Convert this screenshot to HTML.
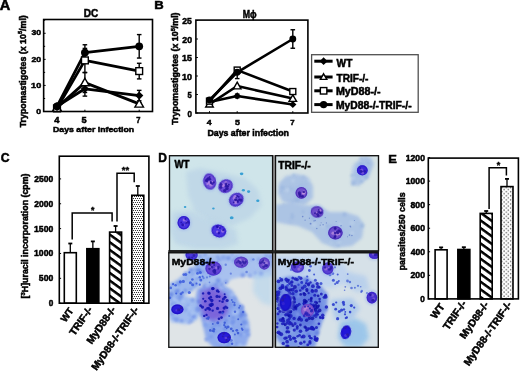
<!DOCTYPE html>
<html><head><meta charset="utf-8"><style>
html,body{margin:0;padding:0;background:#fff;}
svg{display:block;will-change:transform;}
text{font-family:"Liberation Sans",sans-serif;font-weight:bold;fill:#000;}
</style></head><body>
<svg width="520" height="371" viewBox="0 0 520 371">
<defs>
<pattern id="hatch" patternUnits="userSpaceOnUse" width="6.2" height="6.2" patternTransform="rotate(36)">
<rect width="6.2" height="6.2" fill="#fff"/><rect y="0" width="6.2" height="2.5" fill="#000"/></pattern>
<pattern id="dotsC" patternUnits="userSpaceOnUse" width="2" height="4">
<rect width="2" height="4" fill="#fff"/><circle cx="0.5" cy="0.5" r="0.62" fill="#2a2a2a"/><circle cx="1.5" cy="2.5" r="0.62" fill="#2a2a2a"/></pattern>
<pattern id="dots" patternUnits="userSpaceOnUse" width="4.3" height="4.1">
<rect width="4.3" height="4.1" fill="#fff"/><circle cx="1.0" cy="1.0" r="0.75" fill="#6a6a6a"/><circle cx="3.15" cy="3.05" r="0.75" fill="#6a6a6a"/></pattern>
<filter id="b1" x="-50%" y="-50%" width="200%" height="200%"><feGaussianBlur stdDeviation="1"/></filter>
<filter id="b15" x="-50%" y="-50%" width="200%" height="200%"><feGaussianBlur stdDeviation="1.5"/></filter>
<filter id="b2" x="-50%" y="-50%" width="200%" height="200%"><feGaussianBlur stdDeviation="2"/></filter>
<filter id="b04" x="-50%" y="-50%" width="200%" height="200%"><feGaussianBlur stdDeviation="0.4"/></filter>
<filter id="b06" x="-50%" y="-50%" width="200%" height="200%"><feGaussianBlur stdDeviation="0.6"/></filter>
<filter id="b05" x="-50%" y="-50%" width="200%" height="200%"><feGaussianBlur stdDeviation="0.5"/></filter>
</defs>
<rect x="273.0" y="155.2" width="2.2" height="192.6" fill="#a0a0a0"/>
<rect x="168.3" y="250.2" width="210.7" height="3.2" fill="#2a2a2a"/>
<clipPath id="cpWT"><rect x="169.5" y="155.7" width="103.10000000000002" height="95.10000000000002"/></clipPath>
<g clip-path="url(#cpWT)">
<rect x="169.5" y="155.7" width="103.10000000000002" height="95.10000000000002" fill="#cfe5ea"/>
<path d="M186 172 L200 168 L220 172 L245 178 L258 190 L262 205 L250 218 L232 226 L210 222 L195 212 L188 195Z" fill="#bad3e6" opacity="0.7" filter="url(#b2)"/>
<path d="M172 212 L190 210 L205 218 L222 222 L236 230 L238 244 L222 249 L195 249 L175 244 L170 230Z" fill="#b9d2e6" opacity="0.7" filter="url(#b2)"/>
<ellipse cx="241.6" cy="173.8" rx="1.8" ry="1.4" fill="#38a0d4" opacity="1" transform="rotate(0 241.6 173.8)" filter="url(#b05)"/>
<ellipse cx="243.4" cy="190.2" rx="1.6" ry="1.3" fill="#38a0d4" opacity="1" transform="rotate(0 243.4 190.2)" filter="url(#b05)"/>
<ellipse cx="248.6" cy="191.6" rx="1.6" ry="1.3" fill="#38a0d4" opacity="1" transform="rotate(0 248.6 191.6)" filter="url(#b05)"/>
<ellipse cx="257.8" cy="200.7" rx="1.6" ry="1.3" fill="#38a0d4" opacity="1" transform="rotate(0 257.8 200.7)" filter="url(#b05)"/>
<ellipse cx="231.7" cy="217.7" rx="1.9" ry="1.5" fill="#38a0d4" opacity="1" transform="rotate(0 231.7 217.7)" filter="url(#b05)"/>
<ellipse cx="213.4" cy="208.5" rx="1.3" ry="1.0" fill="#38a0d4" opacity="1" transform="rotate(0 213.4 208.5)" filter="url(#b05)"/>
<ellipse cx="185.1" cy="206.9" rx="1.3" ry="1.0" fill="#38a0d4" opacity="1" transform="rotate(0 185.1 206.9)" filter="url(#b05)"/>
<ellipse cx="237.0" cy="194.0" rx="1.1" ry="0.9" fill="#38a0d4" opacity="1" transform="rotate(0 237.0 194.0)" filter="url(#b05)"/>
<ellipse cx="209.7" cy="181.6" rx="8.0" ry="9.8" fill="#a0b8ec" opacity="0.55" transform="rotate(-12 209.7 181.6)" filter="url(#b1)"/>
<ellipse cx="209.7" cy="181.6" rx="6.2" ry="8.0" fill="#6e50d8" opacity="1" transform="rotate(-12 209.7 181.6)" filter="url(#b05)"/>
<ellipse cx="209.7" cy="181.6" rx="5.7" ry="7.5" fill="none" stroke="#4428c0" stroke-width="1.3" opacity="0.75" transform="rotate(-12 209.7 181.6)" filter="url(#b05)"/>
<circle cx="209.4" cy="183.2" r="1.5" fill="#b88ae4" opacity="0.75" filter="url(#b06)"/>
<circle cx="212.2" cy="182.5" r="1.3" fill="#b88ae4" opacity="0.75" filter="url(#b06)"/>
<circle cx="212.2" cy="182.2" r="1.0" fill="#b88ae4" opacity="0.75" filter="url(#b06)"/>
<circle cx="209.0" cy="182.2" r="1.1" fill="#b88ae4" opacity="0.75" filter="url(#b06)"/>
<circle cx="207.4" cy="184.0" r="1.1" fill="#b88ae4" opacity="0.75" filter="url(#b06)"/>
<circle cx="210.9" cy="184.9" r="1.7" fill="#b88ae4" opacity="0.75" filter="url(#b06)"/>
<circle cx="206.9" cy="180.5" r="1.6" fill="#2c16a4" opacity="0.85" filter="url(#b06)"/>
<circle cx="213.9" cy="182.3" r="1.1" fill="#2c16a4" opacity="0.85" filter="url(#b06)"/>
<circle cx="210.9" cy="182.9" r="1.1" fill="#2c16a4" opacity="0.85" filter="url(#b06)"/>
<circle cx="210.0" cy="179.2" r="1.3" fill="#2c16a4" opacity="0.85" filter="url(#b06)"/>
<circle cx="207.4" cy="179.3" r="1.3" fill="#2c16a4" opacity="0.85" filter="url(#b06)"/>
<circle cx="210.8" cy="181.9" r="1.0" fill="#2c16a4" opacity="0.85" filter="url(#b06)"/>
<circle cx="207.8" cy="178.5" r="1.1" fill="#2c16a4" opacity="0.85" filter="url(#b06)"/>
<circle cx="206.8" cy="180.2" r="1.1" fill="#2c16a4" opacity="0.85" filter="url(#b06)"/>
<circle cx="209.7" cy="176.9" r="1.0" fill="#2c16a4" opacity="0.85" filter="url(#b06)"/>
<circle cx="206.5" cy="180.4" r="1.5" fill="#2c16a4" opacity="0.85" filter="url(#b06)"/>
<circle cx="208.8" cy="178.7" r="1.6" fill="#2c16a4" opacity="0.85" filter="url(#b06)"/>
<circle cx="212.3" cy="183.6" r="1.4" fill="#2c16a4" opacity="0.85" filter="url(#b06)"/>
<ellipse cx="225.6" cy="186.1" rx="9.0" ry="8.2" fill="#a0b8ec" opacity="0.55" transform="rotate(-30 225.6 186.1)" filter="url(#b1)"/>
<ellipse cx="225.6" cy="186.1" rx="7.2" ry="6.4" fill="#6c4ed8" opacity="1" transform="rotate(-30 225.6 186.1)" filter="url(#b05)"/>
<ellipse cx="225.6" cy="186.1" rx="6.7" ry="5.9" fill="none" stroke="#4428c0" stroke-width="1.3" opacity="0.75" transform="rotate(-30 225.6 186.1)" filter="url(#b05)"/>
<circle cx="228.0" cy="187.0" r="1.0" fill="#b88ae4" opacity="0.75" filter="url(#b06)"/>
<circle cx="222.8" cy="184.6" r="1.4" fill="#b88ae4" opacity="0.75" filter="url(#b06)"/>
<circle cx="226.3" cy="184.1" r="1.5" fill="#b88ae4" opacity="0.75" filter="url(#b06)"/>
<circle cx="222.7" cy="186.1" r="1.3" fill="#b88ae4" opacity="0.75" filter="url(#b06)"/>
<circle cx="225.9" cy="182.6" r="1.3" fill="#b88ae4" opacity="0.75" filter="url(#b06)"/>
<circle cx="224.8" cy="185.7" r="1.5" fill="#b88ae4" opacity="0.75" filter="url(#b06)"/>
<circle cx="221.1" cy="184.5" r="1.5" fill="#2c16a4" opacity="0.85" filter="url(#b06)"/>
<circle cx="226.4" cy="188.9" r="1.4" fill="#2c16a4" opacity="0.85" filter="url(#b06)"/>
<circle cx="228.8" cy="184.7" r="1.0" fill="#2c16a4" opacity="0.85" filter="url(#b06)"/>
<circle cx="226.8" cy="186.3" r="1.4" fill="#2c16a4" opacity="0.85" filter="url(#b06)"/>
<circle cx="228.0" cy="186.7" r="1.1" fill="#2c16a4" opacity="0.85" filter="url(#b06)"/>
<circle cx="226.0" cy="184.8" r="1.2" fill="#2c16a4" opacity="0.85" filter="url(#b06)"/>
<circle cx="220.9" cy="187.3" r="1.5" fill="#2c16a4" opacity="0.85" filter="url(#b06)"/>
<circle cx="226.2" cy="183.6" r="1.2" fill="#2c16a4" opacity="0.85" filter="url(#b06)"/>
<circle cx="224.6" cy="190.5" r="1.6" fill="#2c16a4" opacity="0.85" filter="url(#b06)"/>
<circle cx="227.5" cy="186.8" r="1.0" fill="#2c16a4" opacity="0.85" filter="url(#b06)"/>
<circle cx="227.5" cy="188.7" r="1.3" fill="#2c16a4" opacity="0.85" filter="url(#b06)"/>
<circle cx="225.7" cy="186.4" r="1.2" fill="#2c16a4" opacity="0.85" filter="url(#b06)"/>
<ellipse cx="236.3" cy="199.7" rx="9.2" ry="8.2" fill="#a0b8ec" opacity="0.55" transform="rotate(-35 236.3 199.7)" filter="url(#b1)"/>
<ellipse cx="236.3" cy="199.7" rx="7.4" ry="6.4" fill="#6248d8" opacity="1" transform="rotate(-35 236.3 199.7)" filter="url(#b05)"/>
<ellipse cx="236.3" cy="199.7" rx="6.9" ry="5.9" fill="none" stroke="#3a22bc" stroke-width="1.3" opacity="0.75" transform="rotate(-35 236.3 199.7)" filter="url(#b05)"/>
<circle cx="235.7" cy="202.5" r="1.7" fill="#b088e4" opacity="0.75" filter="url(#b06)"/>
<circle cx="234.1" cy="198.4" r="1.4" fill="#b088e4" opacity="0.75" filter="url(#b06)"/>
<circle cx="235.5" cy="199.3" r="1.6" fill="#b088e4" opacity="0.75" filter="url(#b06)"/>
<circle cx="235.0" cy="196.6" r="1.6" fill="#b088e4" opacity="0.75" filter="url(#b06)"/>
<circle cx="235.5" cy="202.0" r="1.1" fill="#b088e4" opacity="0.75" filter="url(#b06)"/>
<circle cx="235.1" cy="199.5" r="0.9" fill="#2814a0" opacity="0.85" filter="url(#b06)"/>
<circle cx="237.8" cy="200.9" r="1.1" fill="#2814a0" opacity="0.85" filter="url(#b06)"/>
<circle cx="236.4" cy="199.7" r="1.0" fill="#2814a0" opacity="0.85" filter="url(#b06)"/>
<circle cx="239.4" cy="199.6" r="0.9" fill="#2814a0" opacity="0.85" filter="url(#b06)"/>
<circle cx="237.2" cy="195.9" r="1.0" fill="#2814a0" opacity="0.85" filter="url(#b06)"/>
<circle cx="237.8" cy="202.0" r="1.1" fill="#2814a0" opacity="0.85" filter="url(#b06)"/>
<circle cx="240.9" cy="200.1" r="1.6" fill="#2814a0" opacity="0.85" filter="url(#b06)"/>
<circle cx="233.7" cy="202.3" r="0.9" fill="#2814a0" opacity="0.85" filter="url(#b06)"/>
<circle cx="239.3" cy="199.6" r="1.0" fill="#2814a0" opacity="0.85" filter="url(#b06)"/>
<circle cx="236.2" cy="197.8" r="0.9" fill="#2814a0" opacity="0.85" filter="url(#b06)"/>
<circle cx="238.7" cy="196.8" r="1.0" fill="#2814a0" opacity="0.85" filter="url(#b06)"/>
<circle cx="235.5" cy="200.0" r="1.2" fill="#2814a0" opacity="0.85" filter="url(#b06)"/>
<ellipse cx="183.8" cy="222.7" rx="8.0" ry="8.4" fill="#a0b8ec" opacity="0.55" transform="rotate(0 183.8 222.7)" filter="url(#b1)"/>
<ellipse cx="183.8" cy="222.7" rx="6.2" ry="6.6" fill="#4a34e0" opacity="1" transform="rotate(0 183.8 222.7)" filter="url(#b05)"/>
<ellipse cx="183.8" cy="222.7" rx="5.7" ry="6.1" fill="none" stroke="#2a16c8" stroke-width="1.3" opacity="0.75" transform="rotate(0 183.8 222.7)" filter="url(#b05)"/>
<circle cx="186.9" cy="222.2" r="1.5" fill="#a880e4" opacity="0.75" filter="url(#b06)"/>
<circle cx="183.7" cy="224.9" r="1.1" fill="#a880e4" opacity="0.75" filter="url(#b06)"/>
<circle cx="184.1" cy="220.1" r="1.5" fill="#a880e4" opacity="0.75" filter="url(#b06)"/>
<circle cx="182.8" cy="224.7" r="1.5" fill="#2010b0" opacity="0.85" filter="url(#b06)"/>
<circle cx="187.9" cy="222.3" r="1.5" fill="#2010b0" opacity="0.85" filter="url(#b06)"/>
<circle cx="185.4" cy="219.0" r="1.0" fill="#2010b0" opacity="0.85" filter="url(#b06)"/>
<circle cx="181.2" cy="222.4" r="0.9" fill="#2010b0" opacity="0.85" filter="url(#b06)"/>
<circle cx="186.1" cy="223.1" r="1.0" fill="#2010b0" opacity="0.85" filter="url(#b06)"/>
<ellipse cx="218.8" cy="231.0" rx="9.1" ry="8.0" fill="#a0b8ec" opacity="0.55" transform="rotate(20 218.8 231.0)" filter="url(#b1)"/>
<ellipse cx="218.8" cy="231.0" rx="7.3" ry="6.2" fill="#4a34e0" opacity="1" transform="rotate(20 218.8 231.0)" filter="url(#b05)"/>
<ellipse cx="218.8" cy="231.0" rx="6.8" ry="5.7" fill="none" stroke="#2a16c8" stroke-width="1.3" opacity="0.75" transform="rotate(20 218.8 231.0)" filter="url(#b05)"/>
<circle cx="218.6" cy="227.6" r="1.3" fill="#a880e4" opacity="0.75" filter="url(#b06)"/>
<circle cx="222.7" cy="231.0" r="1.7" fill="#a880e4" opacity="0.75" filter="url(#b06)"/>
<circle cx="217.2" cy="231.7" r="1.2" fill="#a880e4" opacity="0.75" filter="url(#b06)"/>
<circle cx="218.9" cy="233.1" r="1.3" fill="#2010b0" opacity="0.85" filter="url(#b06)"/>
<circle cx="223.3" cy="230.1" r="1.2" fill="#2010b0" opacity="0.85" filter="url(#b06)"/>
<circle cx="217.4" cy="227.0" r="0.9" fill="#2010b0" opacity="0.85" filter="url(#b06)"/>
<circle cx="217.5" cy="226.7" r="1.4" fill="#2010b0" opacity="0.85" filter="url(#b06)"/>
<circle cx="219.9" cy="228.1" r="1.0" fill="#2010b0" opacity="0.85" filter="url(#b06)"/>
</g>
<rect x="169.5" y="155.7" width="103.10000000000002" height="95.10000000000002" fill="none" stroke="#111" stroke-width="1.35"/>
<clipPath id="cpTRIF"><rect x="275.5" y="155.7" width="103.0" height="95.20000000000002"/></clipPath>
<g clip-path="url(#cpTRIF)">
<rect x="275.5" y="155.7" width="103.0" height="95.20000000000002" fill="#d8e4e6"/>
<path d="M279 183 L286 176 L297 174 L308 177 L313 186 L313 198 L305 205 L292 205 L282 201 L278 193Z" fill="#aac2e4" opacity="0.95" filter="url(#b15)"/>
<circle cx="305.6" cy="184.3" r="1.7" fill="#a0bae0" opacity="0.5" filter="url(#b1)"/>
<circle cx="292.0" cy="203.4" r="1.4" fill="#a0bae0" opacity="0.5" filter="url(#b1)"/>
<circle cx="298.7" cy="188.4" r="1.4" fill="#a0bae0" opacity="0.5" filter="url(#b1)"/>
<circle cx="301.0" cy="184.9" r="1.9" fill="#a0bae0" opacity="0.5" filter="url(#b1)"/>
<circle cx="303.4" cy="177.2" r="2.3" fill="#a0bae0" opacity="0.5" filter="url(#b1)"/>
<circle cx="293.2" cy="201.0" r="1.2" fill="#90aedc" opacity="0.5" filter="url(#b1)"/>
<circle cx="285.4" cy="189.5" r="1.6" fill="#a0bae0" opacity="0.5" filter="url(#b1)"/>
<circle cx="297.1" cy="199.9" r="2.3" fill="#90aedc" opacity="0.5" filter="url(#b1)"/>
<circle cx="290.4" cy="188.2" r="2.2" fill="#a0bae0" opacity="0.5" filter="url(#b1)"/>
<circle cx="296.1" cy="199.6" r="1.4" fill="#a0bae0" opacity="0.5" filter="url(#b1)"/>
<circle cx="283.3" cy="189.8" r="2.1" fill="#c0d4ec" opacity="0.5" filter="url(#b1)"/>
<circle cx="299.3" cy="198.1" r="1.4" fill="#90aedc" opacity="0.5" filter="url(#b1)"/>
<circle cx="294.6" cy="196.5" r="1.3" fill="#a0bae0" opacity="0.5" filter="url(#b1)"/>
<circle cx="301.9" cy="190.5" r="2.1" fill="#c0d4ec" opacity="0.5" filter="url(#b1)"/>
<circle cx="281.7" cy="191.4" r="1.4" fill="#90aedc" opacity="0.5" filter="url(#b1)"/>
<circle cx="293.8" cy="174.9" r="1.7" fill="#90aedc" opacity="0.5" filter="url(#b1)"/>
<circle cx="299.4" cy="189.7" r="1.4" fill="#a0bae0" opacity="0.5" filter="url(#b1)"/>
<circle cx="287.7" cy="189.8" r="1.8" fill="#c0d4ec" opacity="0.5" filter="url(#b1)"/>
<circle cx="286.7" cy="190.2" r="2.3" fill="#c0d4ec" opacity="0.5" filter="url(#b1)"/>
<circle cx="309.2" cy="180.3" r="1.4" fill="#c0d4ec" opacity="0.5" filter="url(#b1)"/>
<circle cx="282.3" cy="187.7" r="2.0" fill="#90aedc" opacity="0.5" filter="url(#b1)"/>
<circle cx="293.0" cy="180.6" r="2.1" fill="#c0d4ec" opacity="0.5" filter="url(#b1)"/>
<circle cx="303.1" cy="194.5" r="1.5" fill="#90aedc" opacity="0.5" filter="url(#b1)"/>
<circle cx="282.8" cy="188.5" r="2.3" fill="#a0bae0" opacity="0.5" filter="url(#b1)"/>
<circle cx="291.9" cy="189.1" r="2.2" fill="#a0bae0" opacity="0.5" filter="url(#b1)"/>
<path d="M276 205 L290 202 L305 205 L318 206 L330 212 L345 212 L358 216 L364 224 L362 238 L352 246 L335 248 L322 243 L312 232 L298 226 L285 224 L276 222Z" fill="#aac2e4" opacity="0.95" filter="url(#b15)"/>
<circle cx="290.2" cy="221.9" r="1.7" fill="#a0bae0" opacity="0.5" filter="url(#b1)"/>
<circle cx="313.1" cy="218.4" r="2.1" fill="#90aedc" opacity="0.5" filter="url(#b1)"/>
<circle cx="344.6" cy="214.4" r="2.2" fill="#90aedc" opacity="0.5" filter="url(#b1)"/>
<circle cx="350.8" cy="233.1" r="1.7" fill="#c0d4ec" opacity="0.5" filter="url(#b1)"/>
<circle cx="323.2" cy="225.7" r="2.0" fill="#c0d4ec" opacity="0.5" filter="url(#b1)"/>
<circle cx="283.9" cy="204.6" r="1.4" fill="#a0bae0" opacity="0.5" filter="url(#b1)"/>
<circle cx="277.5" cy="206.1" r="1.3" fill="#c0d4ec" opacity="0.5" filter="url(#b1)"/>
<circle cx="351.9" cy="222.9" r="2.4" fill="#c0d4ec" opacity="0.5" filter="url(#b1)"/>
<circle cx="338.4" cy="245.2" r="1.5" fill="#90aedc" opacity="0.5" filter="url(#b1)"/>
<circle cx="331.3" cy="226.4" r="1.5" fill="#90aedc" opacity="0.5" filter="url(#b1)"/>
<circle cx="320.0" cy="210.2" r="2.2" fill="#c0d4ec" opacity="0.5" filter="url(#b1)"/>
<circle cx="362.1" cy="225.7" r="2.3" fill="#90aedc" opacity="0.5" filter="url(#b1)"/>
<circle cx="314.0" cy="224.8" r="2.4" fill="#c0d4ec" opacity="0.5" filter="url(#b1)"/>
<circle cx="303.1" cy="211.9" r="1.6" fill="#90aedc" opacity="0.5" filter="url(#b1)"/>
<circle cx="349.2" cy="234.5" r="1.4" fill="#a0bae0" opacity="0.5" filter="url(#b1)"/>
<circle cx="331.0" cy="242.5" r="1.4" fill="#c0d4ec" opacity="0.5" filter="url(#b1)"/>
<circle cx="352.6" cy="232.8" r="1.9" fill="#c0d4ec" opacity="0.5" filter="url(#b1)"/>
<circle cx="292.3" cy="214.4" r="1.5" fill="#90aedc" opacity="0.5" filter="url(#b1)"/>
<circle cx="324.1" cy="213.2" r="1.5" fill="#c0d4ec" opacity="0.5" filter="url(#b1)"/>
<circle cx="292.1" cy="217.4" r="1.8" fill="#90aedc" opacity="0.5" filter="url(#b1)"/>
<circle cx="320.2" cy="211.2" r="2.1" fill="#a0bae0" opacity="0.5" filter="url(#b1)"/>
<circle cx="310.7" cy="215.8" r="1.5" fill="#a0bae0" opacity="0.5" filter="url(#b1)"/>
<circle cx="327.5" cy="226.3" r="2.0" fill="#90aedc" opacity="0.5" filter="url(#b1)"/>
<circle cx="339.0" cy="242.4" r="2.1" fill="#c0d4ec" opacity="0.5" filter="url(#b1)"/>
<circle cx="339.4" cy="224.7" r="2.1" fill="#c0d4ec" opacity="0.5" filter="url(#b1)"/>
<path d="M354 164 L362 158 L371 157 L374 164 L369 177 L359 186 L351 185 L352 173Z" fill="#aac2e4" opacity="0.95" filter="url(#b15)"/>
<circle cx="365.8" cy="158.3" r="2.3" fill="#a0bae0" opacity="0.5" filter="url(#b1)"/>
<circle cx="365.4" cy="178.3" r="1.4" fill="#a0bae0" opacity="0.5" filter="url(#b1)"/>
<circle cx="363.0" cy="171.6" r="2.2" fill="#90aedc" opacity="0.5" filter="url(#b1)"/>
<circle cx="366.7" cy="177.1" r="1.3" fill="#90aedc" opacity="0.5" filter="url(#b1)"/>
<circle cx="352.0" cy="175.5" r="1.7" fill="#90aedc" opacity="0.5" filter="url(#b1)"/>
<circle cx="361.4" cy="158.5" r="2.0" fill="#90aedc" opacity="0.5" filter="url(#b1)"/>
<circle cx="366.7" cy="171.2" r="1.7" fill="#90aedc" opacity="0.5" filter="url(#b1)"/>
<circle cx="352.6" cy="184.0" r="1.3" fill="#a0bae0" opacity="0.5" filter="url(#b1)"/>
<circle cx="363.1" cy="178.6" r="1.5" fill="#c0d4ec" opacity="0.5" filter="url(#b1)"/>
<circle cx="367.8" cy="163.0" r="2.0" fill="#a0bae0" opacity="0.5" filter="url(#b1)"/>
<circle cx="361.6" cy="181.5" r="1.8" fill="#90aedc" opacity="0.5" filter="url(#b1)"/>
<circle cx="365.2" cy="175.6" r="1.9" fill="#90aedc" opacity="0.5" filter="url(#b1)"/>
<circle cx="358.6" cy="175.9" r="1.6" fill="#a0bae0" opacity="0.5" filter="url(#b1)"/>
<circle cx="366.5" cy="177.1" r="1.8" fill="#a0bae0" opacity="0.5" filter="url(#b1)"/>
<circle cx="367.3" cy="165.3" r="1.8" fill="#c0d4ec" opacity="0.5" filter="url(#b1)"/>
<circle cx="353.7" cy="182.9" r="1.6" fill="#90aedc" opacity="0.5" filter="url(#b1)"/>
<circle cx="353.0" cy="170.7" r="1.8" fill="#c0d4ec" opacity="0.5" filter="url(#b1)"/>
<circle cx="361.3" cy="164.8" r="2.3" fill="#90aedc" opacity="0.5" filter="url(#b1)"/>
<circle cx="353.1" cy="178.7" r="2.3" fill="#c0d4ec" opacity="0.5" filter="url(#b1)"/>
<circle cx="354.0" cy="180.8" r="1.5" fill="#a0bae0" opacity="0.5" filter="url(#b1)"/>
<circle cx="353.6" cy="167.6" r="2.3" fill="#c0d4ec" opacity="0.5" filter="url(#b1)"/>
<circle cx="361.4" cy="165.8" r="1.7" fill="#90aedc" opacity="0.5" filter="url(#b1)"/>
<circle cx="359.7" cy="160.5" r="1.2" fill="#c0d4ec" opacity="0.5" filter="url(#b1)"/>
<circle cx="353.8" cy="183.9" r="1.2" fill="#a0bae0" opacity="0.5" filter="url(#b1)"/>
<circle cx="368.0" cy="164.3" r="1.7" fill="#90aedc" opacity="0.5" filter="url(#b1)"/>
<circle cx="320.2" cy="225.1" r="0.6" fill="#4866c0" opacity="0.6" filter="url(#b04)"/>
<circle cx="302.7" cy="216.6" r="0.8" fill="#4866c0" opacity="0.6" filter="url(#b04)"/>
<circle cx="314.0" cy="220.9" r="0.7" fill="#4866c0" opacity="0.6" filter="url(#b04)"/>
<circle cx="310.6" cy="223.7" r="0.9" fill="#4866c0" opacity="0.6" filter="url(#b04)"/>
<circle cx="349.5" cy="235.1" r="0.8" fill="#4866c0" opacity="0.6" filter="url(#b04)"/>
<circle cx="330.8" cy="232.7" r="0.5" fill="#4866c0" opacity="0.6" filter="url(#b04)"/>
<circle cx="341.0" cy="225.7" r="0.8" fill="#4866c0" opacity="0.6" filter="url(#b04)"/>
<circle cx="336.1" cy="221.4" r="0.5" fill="#4866c0" opacity="0.6" filter="url(#b04)"/>
<circle cx="326.4" cy="222.9" r="0.6" fill="#4866c0" opacity="0.6" filter="url(#b04)"/>
<circle cx="316.8" cy="228.5" r="0.7" fill="#4866c0" opacity="0.6" filter="url(#b04)"/>
<circle cx="309.4" cy="218.2" r="0.6" fill="#4866c0" opacity="0.6" filter="url(#b04)"/>
<circle cx="350.7" cy="226.9" r="0.6" fill="#4866c0" opacity="0.6" filter="url(#b04)"/>
<circle cx="325.2" cy="217.6" r="0.6" fill="#4866c0" opacity="0.6" filter="url(#b04)"/>
<circle cx="305.1" cy="220.2" r="0.6" fill="#4866c0" opacity="0.6" filter="url(#b04)"/>
<circle cx="331.9" cy="237.1" r="0.8" fill="#4866c0" opacity="0.6" filter="url(#b04)"/>
<circle cx="323.1" cy="224.8" r="0.7" fill="#4866c0" opacity="0.6" filter="url(#b04)"/>
<circle cx="321.1" cy="222.8" r="0.5" fill="#4866c0" opacity="0.6" filter="url(#b04)"/>
<circle cx="335.3" cy="236.4" r="0.6" fill="#4866c0" opacity="0.6" filter="url(#b04)"/>
<circle cx="315.2" cy="220.5" r="0.7" fill="#4866c0" opacity="0.6" filter="url(#b04)"/>
<circle cx="347.5" cy="236.7" r="0.5" fill="#4866c0" opacity="0.6" filter="url(#b04)"/>
<circle cx="350.2" cy="226.3" r="0.7" fill="#4866c0" opacity="0.6" filter="url(#b04)"/>
<circle cx="351.9" cy="235.5" r="0.8" fill="#4866c0" opacity="0.6" filter="url(#b04)"/>
<circle cx="354.4" cy="220.5" r="0.5" fill="#4866c0" opacity="0.6" filter="url(#b04)"/>
<circle cx="338.2" cy="238.5" r="0.8" fill="#4866c0" opacity="0.6" filter="url(#b04)"/>
<circle cx="336.3" cy="233.9" r="0.7" fill="#4866c0" opacity="0.6" filter="url(#b04)"/>
<ellipse cx="362.3" cy="170.3" rx="7.1" ry="6.8" fill="#a0b8ec" opacity="0.55" transform="rotate(0 362.3 170.3)" filter="url(#b1)"/>
<ellipse cx="362.3" cy="170.3" rx="5.3" ry="5.0" fill="#3a28d8" opacity="1" transform="rotate(0 362.3 170.3)" filter="url(#b05)"/>
<ellipse cx="362.3" cy="170.3" rx="4.8" ry="4.5" fill="none" stroke="#2818c8" stroke-width="1.3" opacity="0.75" transform="rotate(0 362.3 170.3)" filter="url(#b05)"/>
<circle cx="361.8" cy="170.1" r="1.5" fill="#8060d8" opacity="0.75" filter="url(#b06)"/>
<circle cx="362.6" cy="172.9" r="1.5" fill="#8060d8" opacity="0.75" filter="url(#b06)"/>
<circle cx="361.8" cy="171.5" r="1.0" fill="#2a1aa8" opacity="0.85" filter="url(#b06)"/>
<circle cx="360.2" cy="168.0" r="0.9" fill="#2a1aa8" opacity="0.85" filter="url(#b06)"/>
<circle cx="364.8" cy="171.4" r="1.3" fill="#2a1aa8" opacity="0.85" filter="url(#b06)"/>
<circle cx="360.9" cy="171.4" r="1.3" fill="#2a1aa8" opacity="0.85" filter="url(#b06)"/>
<ellipse cx="301.4" cy="192.9" rx="7.6" ry="7.6" fill="#a0b8ec" opacity="0.55" transform="rotate(0 301.4 192.9)" filter="url(#b1)"/>
<ellipse cx="301.4" cy="192.9" rx="5.8" ry="5.8" fill="#7050cc" opacity="1" transform="rotate(0 301.4 192.9)" filter="url(#b05)"/>
<ellipse cx="301.4" cy="192.9" rx="5.3" ry="5.3" fill="none" stroke="#4a2cb4" stroke-width="1.3" opacity="0.75" transform="rotate(0 301.4 192.9)" filter="url(#b05)"/>
<circle cx="303.1" cy="193.0" r="1.3" fill="#bc90dc" opacity="0.75" filter="url(#b06)"/>
<circle cx="303.9" cy="192.2" r="1.6" fill="#bc90dc" opacity="0.75" filter="url(#b06)"/>
<circle cx="299.9" cy="193.1" r="1.2" fill="#bc90dc" opacity="0.75" filter="url(#b06)"/>
<circle cx="304.0" cy="192.2" r="1.2" fill="#bc90dc" opacity="0.75" filter="url(#b06)"/>
<circle cx="303.6" cy="193.2" r="1.5" fill="#bc90dc" opacity="0.75" filter="url(#b06)"/>
<circle cx="299.5" cy="193.9" r="1.4" fill="#2e18a0" opacity="0.85" filter="url(#b06)"/>
<circle cx="303.2" cy="192.0" r="0.9" fill="#2e18a0" opacity="0.85" filter="url(#b06)"/>
<circle cx="300.0" cy="195.2" r="1.4" fill="#2e18a0" opacity="0.85" filter="url(#b06)"/>
<circle cx="302.6" cy="196.4" r="1.4" fill="#2e18a0" opacity="0.85" filter="url(#b06)"/>
<circle cx="299.5" cy="192.8" r="1.6" fill="#2e18a0" opacity="0.85" filter="url(#b06)"/>
<circle cx="300.0" cy="196.4" r="1.0" fill="#2e18a0" opacity="0.85" filter="url(#b06)"/>
<circle cx="302.0" cy="196.5" r="1.1" fill="#2e18a0" opacity="0.85" filter="url(#b06)"/>
<circle cx="304.2" cy="192.0" r="1.0" fill="#2e18a0" opacity="0.85" filter="url(#b06)"/>
<ellipse cx="317.1" cy="211.9" rx="8.0" ry="7.4" fill="#a0b8ec" opacity="0.55" transform="rotate(10 317.1 211.9)" filter="url(#b1)"/>
<ellipse cx="317.1" cy="211.9" rx="6.2" ry="5.6" fill="#7050cc" opacity="1" transform="rotate(10 317.1 211.9)" filter="url(#b05)"/>
<ellipse cx="317.1" cy="211.9" rx="5.7" ry="5.1" fill="none" stroke="#4a2cb4" stroke-width="1.3" opacity="0.75" transform="rotate(10 317.1 211.9)" filter="url(#b05)"/>
<circle cx="317.1" cy="213.9" r="1.5" fill="#bc90dc" opacity="0.75" filter="url(#b06)"/>
<circle cx="318.4" cy="211.7" r="1.3" fill="#bc90dc" opacity="0.75" filter="url(#b06)"/>
<circle cx="317.4" cy="214.9" r="1.1" fill="#bc90dc" opacity="0.75" filter="url(#b06)"/>
<circle cx="317.8" cy="212.3" r="1.3" fill="#bc90dc" opacity="0.75" filter="url(#b06)"/>
<circle cx="319.9" cy="210.6" r="1.5" fill="#bc90dc" opacity="0.75" filter="url(#b06)"/>
<circle cx="321.4" cy="212.6" r="1.1" fill="#2e18a0" opacity="0.85" filter="url(#b06)"/>
<circle cx="318.2" cy="215.7" r="1.4" fill="#2e18a0" opacity="0.85" filter="url(#b06)"/>
<circle cx="320.5" cy="213.2" r="1.1" fill="#2e18a0" opacity="0.85" filter="url(#b06)"/>
<circle cx="315.0" cy="213.2" r="1.0" fill="#2e18a0" opacity="0.85" filter="url(#b06)"/>
<circle cx="319.4" cy="212.3" r="1.1" fill="#2e18a0" opacity="0.85" filter="url(#b06)"/>
<circle cx="318.7" cy="211.8" r="1.6" fill="#2e18a0" opacity="0.85" filter="url(#b06)"/>
<circle cx="317.4" cy="214.3" r="1.5" fill="#2e18a0" opacity="0.85" filter="url(#b06)"/>
<circle cx="318.8" cy="209.8" r="0.9" fill="#2e18a0" opacity="0.85" filter="url(#b06)"/>
<ellipse cx="335.4" cy="232.8" rx="9.0" ry="8.4" fill="#a0b8ec" opacity="0.55" transform="rotate(0 335.4 232.8)" filter="url(#b1)"/>
<ellipse cx="335.4" cy="232.8" rx="7.2" ry="6.6" fill="#6a4ccc" opacity="1" transform="rotate(0 335.4 232.8)" filter="url(#b05)"/>
<ellipse cx="335.4" cy="232.8" rx="6.7" ry="6.1" fill="none" stroke="#4228b4" stroke-width="1.3" opacity="0.75" transform="rotate(0 335.4 232.8)" filter="url(#b05)"/>
<circle cx="333.0" cy="233.2" r="1.6" fill="#bc90dc" opacity="0.75" filter="url(#b06)"/>
<circle cx="336.2" cy="234.9" r="1.6" fill="#bc90dc" opacity="0.75" filter="url(#b06)"/>
<circle cx="337.9" cy="233.2" r="1.6" fill="#bc90dc" opacity="0.75" filter="url(#b06)"/>
<circle cx="335.5" cy="232.1" r="1.0" fill="#bc90dc" opacity="0.75" filter="url(#b06)"/>
<circle cx="338.9" cy="234.1" r="1.2" fill="#bc90dc" opacity="0.75" filter="url(#b06)"/>
<circle cx="335.3" cy="228.3" r="1.1" fill="#2e18a0" opacity="0.85" filter="url(#b06)"/>
<circle cx="334.7" cy="237.4" r="1.3" fill="#2e18a0" opacity="0.85" filter="url(#b06)"/>
<circle cx="335.1" cy="236.8" r="1.1" fill="#2e18a0" opacity="0.85" filter="url(#b06)"/>
<circle cx="335.3" cy="233.1" r="1.4" fill="#2e18a0" opacity="0.85" filter="url(#b06)"/>
<circle cx="339.0" cy="230.9" r="1.6" fill="#2e18a0" opacity="0.85" filter="url(#b06)"/>
<circle cx="337.9" cy="233.1" r="1.2" fill="#2e18a0" opacity="0.85" filter="url(#b06)"/>
<circle cx="340.3" cy="231.6" r="1.1" fill="#2e18a0" opacity="0.85" filter="url(#b06)"/>
<circle cx="335.4" cy="235.9" r="1.2" fill="#2e18a0" opacity="0.85" filter="url(#b06)"/>
<circle cx="337.4" cy="231.9" r="1.5" fill="#2e18a0" opacity="0.85" filter="url(#b06)"/>
<circle cx="335.1" cy="228.5" r="1.4" fill="#2e18a0" opacity="0.85" filter="url(#b06)"/>
</g>
<rect x="275.5" y="155.7" width="103.0" height="95.20000000000002" fill="none" stroke="#111" stroke-width="1.35"/>
<clipPath id="cpMY"><rect x="168.8" y="252.8" width="103.80000000000001" height="94.5"/></clipPath>
<g clip-path="url(#cpMY)">
<rect x="168.8" y="252.8" width="103.80000000000001" height="94.5" fill="#dfe4e7"/>
<path d="M198 253 L272 253 L272 276 L258 279 L246 276 L232 279 L224 285 L212 286 L204 283 L199 274 L195 264Z" fill="#a6c0f0" opacity="0.95" filter="url(#b15)"/>
<path d="M169 285 L178 279 L188 271 L198 263 L206 257 L215 262 L211 276 L201 285 L191 292 L181 297 L169 301Z" fill="#98b6ee" opacity="0.95" filter="url(#b15)"/>
<path d="M169 298 L182 295 L195 299 L201 310 L197 320 L185 324 L172 322 L169 318Z" fill="#9cbaf0" opacity="0.95" filter="url(#b15)"/>
<path d="M197 289 L208 283 L222 284 L232 290 L238 300 L244 310 L249 322 L250 334 L246 346 L232 348 L214 348 L206 340 L203 326 L199 312 L195 300Z" fill="#8aa8ec" opacity="0.95" filter="url(#b15)"/>
<path d="M254 273 L272 271 L272 306 L262 303 L253 292Z" fill="#b8d6ec" opacity="0.7" filter="url(#b2)"/>
<circle cx="241.8" cy="263.8" r="1.8" fill="#b4ccf4" opacity="0.55" filter="url(#b1)"/>
<circle cx="255.4" cy="272.7" r="1.7" fill="#7898ea" opacity="0.55" filter="url(#b1)"/>
<circle cx="207.3" cy="266.5" r="1.9" fill="#5a7ce4" opacity="0.55" filter="url(#b1)"/>
<circle cx="236.9" cy="258.3" r="2.4" fill="#6a8ae6" opacity="0.55" filter="url(#b1)"/>
<circle cx="271.1" cy="261.7" r="1.5" fill="#5a7ce4" opacity="0.55" filter="url(#b1)"/>
<circle cx="269.9" cy="258.7" r="1.8" fill="#7898ea" opacity="0.55" filter="url(#b1)"/>
<circle cx="242.8" cy="275.2" r="2.3" fill="#5a7ce4" opacity="0.55" filter="url(#b1)"/>
<circle cx="217.6" cy="262.2" r="1.7" fill="#b4ccf4" opacity="0.55" filter="url(#b1)"/>
<circle cx="251.8" cy="259.6" r="1.5" fill="#7898ea" opacity="0.55" filter="url(#b1)"/>
<circle cx="213.1" cy="262.3" r="1.7" fill="#7898ea" opacity="0.55" filter="url(#b1)"/>
<circle cx="234.1" cy="260.6" r="2.1" fill="#5a7ce4" opacity="0.55" filter="url(#b1)"/>
<circle cx="271.3" cy="256.4" r="2.4" fill="#6a8ae6" opacity="0.55" filter="url(#b1)"/>
<circle cx="212.8" cy="267.8" r="1.3" fill="#b4ccf4" opacity="0.55" filter="url(#b1)"/>
<circle cx="217.6" cy="256.9" r="2.0" fill="#7898ea" opacity="0.55" filter="url(#b1)"/>
<circle cx="258.8" cy="259.4" r="1.7" fill="#5a7ce4" opacity="0.55" filter="url(#b1)"/>
<circle cx="261.7" cy="267.8" r="2.3" fill="#b4ccf4" opacity="0.55" filter="url(#b1)"/>
<circle cx="246.2" cy="253.2" r="1.5" fill="#b4ccf4" opacity="0.55" filter="url(#b1)"/>
<circle cx="223.4" cy="257.7" r="2.6" fill="#7898ea" opacity="0.55" filter="url(#b1)"/>
<circle cx="258.1" cy="266.5" r="1.5" fill="#b4ccf4" opacity="0.55" filter="url(#b1)"/>
<circle cx="219.0" cy="259.7" r="2.0" fill="#6a8ae6" opacity="0.55" filter="url(#b1)"/>
<circle cx="199.9" cy="256.3" r="2.1" fill="#6a8ae6" opacity="0.55" filter="url(#b1)"/>
<circle cx="206.9" cy="270.6" r="1.8" fill="#7898ea" opacity="0.55" filter="url(#b1)"/>
<circle cx="215.9" cy="285.6" r="1.8" fill="#b4ccf4" opacity="0.55" filter="url(#b1)"/>
<circle cx="263.0" cy="266.7" r="2.4" fill="#5a7ce4" opacity="0.55" filter="url(#b1)"/>
<circle cx="271.7" cy="265.0" r="1.7" fill="#7898ea" opacity="0.55" filter="url(#b1)"/>
<circle cx="228.4" cy="258.2" r="2.3" fill="#5a7ce4" opacity="0.55" filter="url(#b1)"/>
<circle cx="226.3" cy="282.1" r="2.3" fill="#6a8ae6" opacity="0.55" filter="url(#b1)"/>
<circle cx="205.0" cy="254.7" r="2.1" fill="#7898ea" opacity="0.55" filter="url(#b1)"/>
<circle cx="265.1" cy="255.9" r="2.2" fill="#b4ccf4" opacity="0.55" filter="url(#b1)"/>
<circle cx="208.2" cy="264.5" r="1.9" fill="#7898ea" opacity="0.55" filter="url(#b1)"/>
<circle cx="266.3" cy="256.6" r="2.3" fill="#6a8ae6" opacity="0.55" filter="url(#b1)"/>
<circle cx="218.2" cy="280.6" r="2.6" fill="#5a7ce4" opacity="0.55" filter="url(#b1)"/>
<circle cx="232.2" cy="254.8" r="1.3" fill="#6a8ae6" opacity="0.55" filter="url(#b1)"/>
<circle cx="249.8" cy="275.7" r="2.1" fill="#7898ea" opacity="0.55" filter="url(#b1)"/>
<circle cx="261.0" cy="273.5" r="2.4" fill="#7898ea" opacity="0.55" filter="url(#b1)"/>
<circle cx="209.1" cy="260.2" r="2.5" fill="#6a8ae6" opacity="0.55" filter="url(#b1)"/>
<circle cx="207.0" cy="264.9" r="1.5" fill="#7898ea" opacity="0.55" filter="url(#b1)"/>
<circle cx="198.2" cy="271.6" r="2.1" fill="#5a7ce4" opacity="0.55" filter="url(#b1)"/>
<circle cx="220.0" cy="265.9" r="2.0" fill="#6a8ae6" opacity="0.55" filter="url(#b1)"/>
<circle cx="243.3" cy="263.1" r="1.6" fill="#6a8ae6" opacity="0.55" filter="url(#b1)"/>
<circle cx="185.9" cy="279.2" r="1.2" fill="#7898ea" opacity="0.55" filter="url(#b1)"/>
<circle cx="197.5" cy="278.5" r="1.8" fill="#7898ea" opacity="0.55" filter="url(#b1)"/>
<circle cx="185.5" cy="273.1" r="1.9" fill="#6a8ae6" opacity="0.55" filter="url(#b1)"/>
<circle cx="175.0" cy="297.6" r="2.3" fill="#b4ccf4" opacity="0.55" filter="url(#b1)"/>
<circle cx="192.2" cy="273.6" r="1.2" fill="#7898ea" opacity="0.55" filter="url(#b1)"/>
<circle cx="172.1" cy="284.0" r="1.5" fill="#5a7ce4" opacity="0.55" filter="url(#b1)"/>
<circle cx="176.6" cy="291.7" r="1.3" fill="#7898ea" opacity="0.55" filter="url(#b1)"/>
<circle cx="185.1" cy="290.3" r="1.7" fill="#7898ea" opacity="0.55" filter="url(#b1)"/>
<circle cx="196.2" cy="284.1" r="1.6" fill="#7898ea" opacity="0.55" filter="url(#b1)"/>
<circle cx="176.4" cy="298.2" r="2.5" fill="#b4ccf4" opacity="0.55" filter="url(#b1)"/>
<circle cx="176.8" cy="291.5" r="2.3" fill="#5a7ce4" opacity="0.55" filter="url(#b1)"/>
<circle cx="171.2" cy="294.8" r="2.0" fill="#6a8ae6" opacity="0.55" filter="url(#b1)"/>
<circle cx="198.0" cy="274.3" r="1.6" fill="#b4ccf4" opacity="0.55" filter="url(#b1)"/>
<circle cx="185.6" cy="290.6" r="1.5" fill="#6a8ae6" opacity="0.55" filter="url(#b1)"/>
<circle cx="182.6" cy="279.7" r="2.1" fill="#b4ccf4" opacity="0.55" filter="url(#b1)"/>
<circle cx="199.5" cy="270.8" r="2.2" fill="#5a7ce4" opacity="0.55" filter="url(#b1)"/>
<circle cx="197.8" cy="275.4" r="2.5" fill="#b4ccf4" opacity="0.55" filter="url(#b1)"/>
<circle cx="179.3" cy="282.7" r="1.5" fill="#7898ea" opacity="0.55" filter="url(#b1)"/>
<circle cx="197.7" cy="277.9" r="1.2" fill="#7898ea" opacity="0.55" filter="url(#b1)"/>
<circle cx="175.7" cy="286.3" r="1.8" fill="#b4ccf4" opacity="0.55" filter="url(#b1)"/>
<circle cx="198.7" cy="281.7" r="2.0" fill="#b4ccf4" opacity="0.55" filter="url(#b1)"/>
<circle cx="195.6" cy="283.5" r="1.5" fill="#6a8ae6" opacity="0.55" filter="url(#b1)"/>
<circle cx="193.5" cy="274.9" r="1.4" fill="#7898ea" opacity="0.55" filter="url(#b1)"/>
<circle cx="210.9" cy="261.6" r="1.4" fill="#7898ea" opacity="0.55" filter="url(#b1)"/>
<circle cx="178.2" cy="283.8" r="2.3" fill="#6a8ae6" opacity="0.55" filter="url(#b1)"/>
<circle cx="190.4" cy="289.6" r="1.4" fill="#6a8ae6" opacity="0.55" filter="url(#b1)"/>
<circle cx="212.4" cy="268.6" r="1.6" fill="#5a7ce4" opacity="0.55" filter="url(#b1)"/>
<circle cx="194.5" cy="276.2" r="1.6" fill="#b4ccf4" opacity="0.55" filter="url(#b1)"/>
<circle cx="176.8" cy="296.8" r="2.5" fill="#7898ea" opacity="0.55" filter="url(#b1)"/>
<circle cx="203.3" cy="271.4" r="1.7" fill="#6a8ae6" opacity="0.55" filter="url(#b1)"/>
<circle cx="180.0" cy="296.9" r="1.9" fill="#6a8ae6" opacity="0.55" filter="url(#b1)"/>
<circle cx="170.2" cy="299.1" r="2.0" fill="#7898ea" opacity="0.55" filter="url(#b1)"/>
<circle cx="210.9" cy="263.4" r="1.4" fill="#5a7ce4" opacity="0.55" filter="url(#b1)"/>
<circle cx="197.6" cy="264.1" r="2.2" fill="#7898ea" opacity="0.55" filter="url(#b1)"/>
<circle cx="193.6" cy="286.2" r="1.3" fill="#6a8ae6" opacity="0.55" filter="url(#b1)"/>
<circle cx="170.6" cy="294.3" r="2.4" fill="#5a7ce4" opacity="0.55" filter="url(#b1)"/>
<circle cx="198.1" cy="269.6" r="1.4" fill="#5a7ce4" opacity="0.55" filter="url(#b1)"/>
<circle cx="190.9" cy="269.7" r="2.3" fill="#5a7ce4" opacity="0.55" filter="url(#b1)"/>
<circle cx="195.4" cy="269.6" r="1.2" fill="#6a8ae6" opacity="0.55" filter="url(#b1)"/>
<circle cx="178.3" cy="290.5" r="1.2" fill="#5a7ce4" opacity="0.55" filter="url(#b1)"/>
<circle cx="184.7" cy="309.3" r="2.6" fill="#7898ea" opacity="0.55" filter="url(#b1)"/>
<circle cx="188.0" cy="322.8" r="2.0" fill="#b4ccf4" opacity="0.55" filter="url(#b1)"/>
<circle cx="174.1" cy="318.6" r="1.9" fill="#7898ea" opacity="0.55" filter="url(#b1)"/>
<circle cx="172.5" cy="313.5" r="1.9" fill="#5a7ce4" opacity="0.55" filter="url(#b1)"/>
<circle cx="172.3" cy="304.5" r="1.8" fill="#5a7ce4" opacity="0.55" filter="url(#b1)"/>
<circle cx="181.6" cy="320.8" r="1.8" fill="#5a7ce4" opacity="0.55" filter="url(#b1)"/>
<circle cx="189.7" cy="305.8" r="1.6" fill="#b4ccf4" opacity="0.55" filter="url(#b1)"/>
<circle cx="197.8" cy="309.5" r="2.6" fill="#6a8ae6" opacity="0.55" filter="url(#b1)"/>
<circle cx="189.2" cy="322.4" r="1.9" fill="#7898ea" opacity="0.55" filter="url(#b1)"/>
<circle cx="193.1" cy="316.8" r="1.7" fill="#5a7ce4" opacity="0.55" filter="url(#b1)"/>
<circle cx="179.5" cy="299.5" r="2.1" fill="#6a8ae6" opacity="0.55" filter="url(#b1)"/>
<circle cx="192.7" cy="299.9" r="2.2" fill="#6a8ae6" opacity="0.55" filter="url(#b1)"/>
<circle cx="177.2" cy="301.7" r="1.8" fill="#b4ccf4" opacity="0.55" filter="url(#b1)"/>
<circle cx="175.1" cy="303.7" r="2.2" fill="#7898ea" opacity="0.55" filter="url(#b1)"/>
<circle cx="188.3" cy="305.1" r="1.7" fill="#7898ea" opacity="0.55" filter="url(#b1)"/>
<circle cx="194.4" cy="316.3" r="1.6" fill="#6a8ae6" opacity="0.55" filter="url(#b1)"/>
<circle cx="172.5" cy="321.4" r="1.5" fill="#b4ccf4" opacity="0.55" filter="url(#b1)"/>
<circle cx="181.4" cy="296.0" r="2.4" fill="#6a8ae6" opacity="0.55" filter="url(#b1)"/>
<circle cx="183.0" cy="301.5" r="1.8" fill="#b4ccf4" opacity="0.55" filter="url(#b1)"/>
<circle cx="173.5" cy="312.5" r="1.2" fill="#6a8ae6" opacity="0.55" filter="url(#b1)"/>
<circle cx="176.8" cy="319.7" r="2.4" fill="#6a8ae6" opacity="0.55" filter="url(#b1)"/>
<circle cx="190.4" cy="313.9" r="2.2" fill="#7898ea" opacity="0.55" filter="url(#b1)"/>
<circle cx="189.5" cy="308.2" r="1.6" fill="#b4ccf4" opacity="0.55" filter="url(#b1)"/>
<circle cx="191.4" cy="320.9" r="2.3" fill="#7898ea" opacity="0.55" filter="url(#b1)"/>
<circle cx="191.8" cy="313.3" r="2.4" fill="#b4ccf4" opacity="0.55" filter="url(#b1)"/>
<circle cx="221.6" cy="284.3" r="1.9" fill="#6a8ae6" opacity="0.55" filter="url(#b1)"/>
<circle cx="231.4" cy="339.7" r="2.3" fill="#b4ccf4" opacity="0.55" filter="url(#b1)"/>
<circle cx="216.4" cy="314.8" r="1.3" fill="#5a7ce4" opacity="0.55" filter="url(#b1)"/>
<circle cx="224.9" cy="293.5" r="1.9" fill="#7898ea" opacity="0.55" filter="url(#b1)"/>
<circle cx="224.8" cy="329.6" r="2.1" fill="#5a7ce4" opacity="0.55" filter="url(#b1)"/>
<circle cx="240.6" cy="316.9" r="2.2" fill="#6a8ae6" opacity="0.55" filter="url(#b1)"/>
<circle cx="220.1" cy="347.4" r="1.7" fill="#7898ea" opacity="0.55" filter="url(#b1)"/>
<circle cx="198.1" cy="300.8" r="1.3" fill="#6a8ae6" opacity="0.55" filter="url(#b1)"/>
<circle cx="229.6" cy="326.9" r="1.4" fill="#b4ccf4" opacity="0.55" filter="url(#b1)"/>
<circle cx="211.7" cy="309.0" r="2.6" fill="#7898ea" opacity="0.55" filter="url(#b1)"/>
<circle cx="205.6" cy="324.7" r="2.3" fill="#7898ea" opacity="0.55" filter="url(#b1)"/>
<circle cx="240.7" cy="334.7" r="1.9" fill="#6a8ae6" opacity="0.55" filter="url(#b1)"/>
<circle cx="211.2" cy="318.6" r="2.3" fill="#7898ea" opacity="0.55" filter="url(#b1)"/>
<circle cx="220.8" cy="333.9" r="1.6" fill="#7898ea" opacity="0.55" filter="url(#b1)"/>
<circle cx="215.7" cy="299.5" r="2.2" fill="#6a8ae6" opacity="0.55" filter="url(#b1)"/>
<circle cx="221.5" cy="335.4" r="1.7" fill="#b4ccf4" opacity="0.55" filter="url(#b1)"/>
<circle cx="231.0" cy="303.8" r="1.8" fill="#6a8ae6" opacity="0.55" filter="url(#b1)"/>
<circle cx="230.1" cy="325.9" r="1.4" fill="#b4ccf4" opacity="0.55" filter="url(#b1)"/>
<circle cx="211.7" cy="308.0" r="2.4" fill="#5a7ce4" opacity="0.55" filter="url(#b1)"/>
<circle cx="244.8" cy="334.0" r="1.9" fill="#7898ea" opacity="0.55" filter="url(#b1)"/>
<circle cx="214.0" cy="320.9" r="1.5" fill="#5a7ce4" opacity="0.55" filter="url(#b1)"/>
<circle cx="199.0" cy="302.0" r="2.0" fill="#5a7ce4" opacity="0.55" filter="url(#b1)"/>
<circle cx="219.9" cy="334.0" r="2.5" fill="#7898ea" opacity="0.55" filter="url(#b1)"/>
<circle cx="244.0" cy="322.5" r="2.1" fill="#5a7ce4" opacity="0.55" filter="url(#b1)"/>
<circle cx="244.2" cy="334.2" r="1.5" fill="#b4ccf4" opacity="0.55" filter="url(#b1)"/>
<circle cx="233.1" cy="317.5" r="2.1" fill="#6a8ae6" opacity="0.55" filter="url(#b1)"/>
<circle cx="201.4" cy="290.7" r="1.5" fill="#6a8ae6" opacity="0.55" filter="url(#b1)"/>
<circle cx="202.7" cy="315.0" r="1.9" fill="#5a7ce4" opacity="0.55" filter="url(#b1)"/>
<circle cx="244.8" cy="328.5" r="1.9" fill="#7898ea" opacity="0.55" filter="url(#b1)"/>
<circle cx="224.7" cy="339.1" r="1.4" fill="#5a7ce4" opacity="0.55" filter="url(#b1)"/>
<circle cx="212.6" cy="328.2" r="2.1" fill="#6a8ae6" opacity="0.55" filter="url(#b1)"/>
<circle cx="241.2" cy="307.4" r="2.6" fill="#6a8ae6" opacity="0.55" filter="url(#b1)"/>
<circle cx="232.2" cy="294.7" r="2.1" fill="#b4ccf4" opacity="0.55" filter="url(#b1)"/>
<circle cx="232.5" cy="343.5" r="2.3" fill="#b4ccf4" opacity="0.55" filter="url(#b1)"/>
<circle cx="200.2" cy="314.5" r="1.2" fill="#7898ea" opacity="0.55" filter="url(#b1)"/>
<circle cx="234.5" cy="323.6" r="1.3" fill="#b4ccf4" opacity="0.55" filter="url(#b1)"/>
<circle cx="231.2" cy="305.2" r="1.6" fill="#7898ea" opacity="0.55" filter="url(#b1)"/>
<circle cx="213.8" cy="299.4" r="2.4" fill="#5a7ce4" opacity="0.55" filter="url(#b1)"/>
<circle cx="211.1" cy="336.8" r="1.7" fill="#6a8ae6" opacity="0.55" filter="url(#b1)"/>
<circle cx="214.0" cy="296.2" r="2.3" fill="#6a8ae6" opacity="0.55" filter="url(#b1)"/>
<circle cx="213.2" cy="303.6" r="1.4" fill="#b4ccf4" opacity="0.55" filter="url(#b1)"/>
<circle cx="225.5" cy="309.4" r="1.8" fill="#5a7ce4" opacity="0.55" filter="url(#b1)"/>
<circle cx="240.2" cy="313.9" r="2.3" fill="#5a7ce4" opacity="0.55" filter="url(#b1)"/>
<circle cx="245.0" cy="322.8" r="2.1" fill="#7898ea" opacity="0.55" filter="url(#b1)"/>
<circle cx="233.3" cy="321.8" r="1.5" fill="#5a7ce4" opacity="0.55" filter="url(#b1)"/>
<circle cx="231.7" cy="312.8" r="1.3" fill="#7898ea" opacity="0.55" filter="url(#b1)"/>
<circle cx="205.0" cy="285.4" r="2.5" fill="#5a7ce4" opacity="0.55" filter="url(#b1)"/>
<circle cx="231.1" cy="307.0" r="2.3" fill="#7898ea" opacity="0.55" filter="url(#b1)"/>
<circle cx="225.9" cy="299.8" r="1.5" fill="#b4ccf4" opacity="0.55" filter="url(#b1)"/>
<circle cx="226.1" cy="320.6" r="1.9" fill="#5a7ce4" opacity="0.55" filter="url(#b1)"/>
<circle cx="223.7" cy="336.6" r="2.0" fill="#6a8ae6" opacity="0.55" filter="url(#b1)"/>
<circle cx="227.6" cy="344.0" r="1.9" fill="#7898ea" opacity="0.55" filter="url(#b1)"/>
<circle cx="217.7" cy="289.6" r="1.5" fill="#6a8ae6" opacity="0.55" filter="url(#b1)"/>
<circle cx="234.6" cy="298.7" r="2.5" fill="#7898ea" opacity="0.55" filter="url(#b1)"/>
<circle cx="215.1" cy="331.6" r="2.2" fill="#7898ea" opacity="0.55" filter="url(#b1)"/>
<circle cx="234.0" cy="312.9" r="2.5" fill="#b4ccf4" opacity="0.55" filter="url(#b1)"/>
<circle cx="232.8" cy="323.2" r="1.6" fill="#6a8ae6" opacity="0.55" filter="url(#b1)"/>
<circle cx="242.4" cy="314.6" r="1.6" fill="#5a7ce4" opacity="0.55" filter="url(#b1)"/>
<circle cx="247.2" cy="330.3" r="2.1" fill="#6a8ae6" opacity="0.55" filter="url(#b1)"/>
<circle cx="215.0" cy="324.9" r="1.9" fill="#6a8ae6" opacity="0.55" filter="url(#b1)"/>
<circle cx="237.8" cy="312.4" r="2.3" fill="#b4ccf4" opacity="0.55" filter="url(#b1)"/>
<circle cx="226.2" cy="302.0" r="2.1" fill="#5a7ce4" opacity="0.55" filter="url(#b1)"/>
<circle cx="230.8" cy="335.1" r="2.4" fill="#b4ccf4" opacity="0.55" filter="url(#b1)"/>
<circle cx="227.2" cy="346.5" r="1.7" fill="#7898ea" opacity="0.55" filter="url(#b1)"/>
<circle cx="232.7" cy="322.1" r="2.3" fill="#7898ea" opacity="0.55" filter="url(#b1)"/>
<circle cx="209.5" cy="310.5" r="1.6" fill="#5a7ce4" opacity="0.55" filter="url(#b1)"/>
<circle cx="248.6" cy="334.8" r="1.7" fill="#6a8ae6" opacity="0.55" filter="url(#b1)"/>
<circle cx="236.3" cy="343.6" r="1.6" fill="#7898ea" opacity="0.55" filter="url(#b1)"/>
<circle cx="198.2" cy="308.7" r="2.5" fill="#7898ea" opacity="0.55" filter="url(#b1)"/>
<circle cx="216.2" cy="318.1" r="2.3" fill="#b4ccf4" opacity="0.55" filter="url(#b1)"/>
<circle cx="207.8" cy="320.7" r="2.4" fill="#b4ccf4" opacity="0.55" filter="url(#b1)"/>
<circle cx="223.7" cy="314.0" r="1.5" fill="#7898ea" opacity="0.55" filter="url(#b1)"/>
<circle cx="205.6" cy="294.7" r="1.7" fill="#b4ccf4" opacity="0.55" filter="url(#b1)"/>
<circle cx="226.0" cy="309.2" r="1.5" fill="#7898ea" opacity="0.55" filter="url(#b1)"/>
<circle cx="245.7" cy="315.1" r="1.7" fill="#5a7ce4" opacity="0.55" filter="url(#b1)"/>
<circle cx="220.5" cy="288.3" r="2.0" fill="#b4ccf4" opacity="0.55" filter="url(#b1)"/>
<circle cx="214.0" cy="316.8" r="1.3" fill="#5a7ce4" opacity="0.55" filter="url(#b1)"/>
<circle cx="206.3" cy="339.6" r="2.0" fill="#6a8ae6" opacity="0.55" filter="url(#b1)"/>
<circle cx="210.4" cy="289.3" r="2.3" fill="#6a8ae6" opacity="0.55" filter="url(#b1)"/>
<circle cx="240.0" cy="345.6" r="2.4" fill="#b4ccf4" opacity="0.55" filter="url(#b1)"/>
<circle cx="215.8" cy="284.8" r="2.0" fill="#5a7ce4" opacity="0.55" filter="url(#b1)"/>
<circle cx="242.9" cy="312.8" r="2.4" fill="#5a7ce4" opacity="0.55" filter="url(#b1)"/>
<circle cx="230.2" cy="342.9" r="1.6" fill="#5a7ce4" opacity="0.55" filter="url(#b1)"/>
<circle cx="226.0" cy="324.6" r="1.5" fill="#6a8ae6" opacity="0.55" filter="url(#b1)"/>
<circle cx="241.7" cy="307.1" r="2.6" fill="#7898ea" opacity="0.55" filter="url(#b1)"/>
<circle cx="207.2" cy="285.5" r="2.5" fill="#b4ccf4" opacity="0.55" filter="url(#b1)"/>
<circle cx="209.2" cy="316.4" r="1.3" fill="#6a8ae6" opacity="0.55" filter="url(#b1)"/>
<circle cx="246.7" cy="327.0" r="2.0" fill="#b4ccf4" opacity="0.55" filter="url(#b1)"/>
<circle cx="219.3" cy="325.4" r="1.7" fill="#6a8ae6" opacity="0.55" filter="url(#b1)"/>
<circle cx="209.1" cy="291.1" r="1.7" fill="#6a8ae6" opacity="0.55" filter="url(#b1)"/>
<path d="M201 291 L215 287 L227 296 L228 313 L219 321 L205 319 L200 305Z" fill="#7a5ad8" opacity="0.85" filter="url(#b2)"/>
<circle cx="189.3" cy="292.5" r="1.5" fill="#3454dc" opacity="0.8" filter="url(#b04)"/>
<circle cx="176.2" cy="293.6" r="1.0" fill="#3454dc" opacity="0.8" filter="url(#b04)"/>
<circle cx="197.5" cy="273.4" r="1.4" fill="#3454dc" opacity="0.8" filter="url(#b04)"/>
<circle cx="202.9" cy="264.9" r="1.3" fill="#3454dc" opacity="0.8" filter="url(#b04)"/>
<circle cx="209.9" cy="276.3" r="1.1" fill="#3454dc" opacity="0.8" filter="url(#b04)"/>
<circle cx="182.6" cy="292.4" r="1.2" fill="#3454dc" opacity="0.8" filter="url(#b04)"/>
<circle cx="192.6" cy="284.8" r="1.5" fill="#3454dc" opacity="0.8" filter="url(#b04)"/>
<circle cx="207.4" cy="262.2" r="1.5" fill="#3454dc" opacity="0.8" filter="url(#b04)"/>
<circle cx="175.6" cy="285.2" r="1.3" fill="#3454dc" opacity="0.8" filter="url(#b04)"/>
<circle cx="192.4" cy="279.5" r="1.3" fill="#3454dc" opacity="0.8" filter="url(#b04)"/>
<circle cx="204.0" cy="264.7" r="1.1" fill="#3454dc" opacity="0.8" filter="url(#b04)"/>
<circle cx="199.8" cy="284.7" r="1.1" fill="#3454dc" opacity="0.8" filter="url(#b04)"/>
<circle cx="200.8" cy="279.9" r="1.5" fill="#3454dc" opacity="0.8" filter="url(#b04)"/>
<circle cx="204.1" cy="262.9" r="1.4" fill="#3454dc" opacity="0.8" filter="url(#b04)"/>
<circle cx="180.4" cy="281.8" r="1.6" fill="#3454dc" opacity="0.8" filter="url(#b04)"/>
<circle cx="170.7" cy="287.9" r="1.3" fill="#3454dc" opacity="0.8" filter="url(#b04)"/>
<circle cx="208.5" cy="272.7" r="1.6" fill="#3454dc" opacity="0.8" filter="url(#b04)"/>
<circle cx="202.6" cy="276.6" r="1.0" fill="#3454dc" opacity="0.8" filter="url(#b04)"/>
<circle cx="206.0" cy="262.9" r="1.1" fill="#3454dc" opacity="0.8" filter="url(#b04)"/>
<circle cx="173.1" cy="284.2" r="1.1" fill="#3454dc" opacity="0.8" filter="url(#b04)"/>
<circle cx="183.3" cy="281.4" r="1.6" fill="#3454dc" opacity="0.8" filter="url(#b04)"/>
<circle cx="169.9" cy="297.8" r="1.4" fill="#3454dc" opacity="0.8" filter="url(#b04)"/>
<circle cx="181.0" cy="293.8" r="1.4" fill="#3454dc" opacity="0.8" filter="url(#b04)"/>
<circle cx="189.4" cy="272.4" r="1.1" fill="#3454dc" opacity="0.8" filter="url(#b04)"/>
<circle cx="190.4" cy="282.8" r="1.5" fill="#3454dc" opacity="0.8" filter="url(#b04)"/>
<circle cx="199.8" cy="277.3" r="1.2" fill="#3454dc" opacity="0.8" filter="url(#b04)"/>
<circle cx="196.5" cy="283.5" r="1.0" fill="#3454dc" opacity="0.8" filter="url(#b04)"/>
<circle cx="185.7" cy="274.6" r="1.5" fill="#3454dc" opacity="0.8" filter="url(#b04)"/>
<circle cx="183.7" cy="274.6" r="1.3" fill="#3454dc" opacity="0.8" filter="url(#b04)"/>
<circle cx="200.3" cy="272.6" r="1.5" fill="#3454dc" opacity="0.8" filter="url(#b04)"/>
<circle cx="203.1" cy="293.4" r="1.2" fill="#1616b4" opacity="0.9" filter="url(#b04)"/>
<circle cx="205.6" cy="309.8" r="1.2" fill="#1616b4" opacity="0.9" filter="url(#b04)"/>
<circle cx="211.8" cy="300.5" r="1.7" fill="#1616b4" opacity="0.9" filter="url(#b04)"/>
<circle cx="212.7" cy="288.6" r="1.7" fill="#1616b4" opacity="0.9" filter="url(#b04)"/>
<circle cx="224.2" cy="308.1" r="1.6" fill="#1616b4" opacity="0.9" filter="url(#b04)"/>
<circle cx="217.5" cy="308.4" r="1.6" fill="#1616b4" opacity="0.9" filter="url(#b04)"/>
<circle cx="203.2" cy="298.8" r="1.1" fill="#1616b4" opacity="0.9" filter="url(#b04)"/>
<circle cx="202.4" cy="307.1" r="1.7" fill="#1616b4" opacity="0.9" filter="url(#b04)"/>
<circle cx="212.3" cy="304.4" r="1.6" fill="#1616b4" opacity="0.9" filter="url(#b04)"/>
<circle cx="225.6" cy="306.6" r="1.2" fill="#1616b4" opacity="0.9" filter="url(#b04)"/>
<circle cx="220.6" cy="312.2" r="1.2" fill="#1616b4" opacity="0.9" filter="url(#b04)"/>
<circle cx="212.7" cy="310.6" r="1.2" fill="#1616b4" opacity="0.9" filter="url(#b04)"/>
<circle cx="210.8" cy="305.7" r="1.3" fill="#1616b4" opacity="0.9" filter="url(#b04)"/>
<circle cx="225.0" cy="297.3" r="1.3" fill="#1616b4" opacity="0.9" filter="url(#b04)"/>
<circle cx="209.3" cy="293.4" r="1.4" fill="#1616b4" opacity="0.9" filter="url(#b04)"/>
<circle cx="227.1" cy="300.5" r="1.6" fill="#1616b4" opacity="0.9" filter="url(#b04)"/>
<circle cx="209.1" cy="298.1" r="1.2" fill="#1616b4" opacity="0.9" filter="url(#b04)"/>
<circle cx="224.6" cy="294.3" r="1.0" fill="#1616b4" opacity="0.9" filter="url(#b04)"/>
<circle cx="200.6" cy="305.7" r="1.4" fill="#1616b4" opacity="0.9" filter="url(#b04)"/>
<circle cx="209.7" cy="309.4" r="1.4" fill="#1616b4" opacity="0.9" filter="url(#b04)"/>
<circle cx="223.4" cy="299.0" r="1.5" fill="#1616b4" opacity="0.9" filter="url(#b04)"/>
<circle cx="219.0" cy="318.8" r="1.3" fill="#1616b4" opacity="0.9" filter="url(#b04)"/>
<circle cx="218.7" cy="291.8" r="1.1" fill="#1616b4" opacity="0.9" filter="url(#b04)"/>
<circle cx="217.1" cy="296.4" r="1.6" fill="#1616b4" opacity="0.9" filter="url(#b04)"/>
<circle cx="207.5" cy="308.4" r="1.4" fill="#1616b4" opacity="0.9" filter="url(#b04)"/>
<circle cx="219.7" cy="301.0" r="1.1" fill="#1616b4" opacity="0.9" filter="url(#b04)"/>
<circle cx="211.5" cy="305.7" r="1.1" fill="#1616b4" opacity="0.9" filter="url(#b04)"/>
<circle cx="204.2" cy="315.9" r="1.2" fill="#1616b4" opacity="0.9" filter="url(#b04)"/>
<circle cx="217.4" cy="290.8" r="1.6" fill="#1616b4" opacity="0.9" filter="url(#b04)"/>
<circle cx="219.4" cy="296.8" r="1.2" fill="#1616b4" opacity="0.9" filter="url(#b04)"/>
<circle cx="209.9" cy="304.9" r="1.4" fill="#1616b4" opacity="0.9" filter="url(#b04)"/>
<circle cx="210.7" cy="297.2" r="1.4" fill="#1616b4" opacity="0.9" filter="url(#b04)"/>
<circle cx="222.5" cy="301.8" r="1.3" fill="#1616b4" opacity="0.9" filter="url(#b04)"/>
<circle cx="206.5" cy="314.9" r="1.2" fill="#1616b4" opacity="0.9" filter="url(#b04)"/>
<circle cx="227.1" cy="307.7" r="1.2" fill="#1616b4" opacity="0.9" filter="url(#b04)"/>
<circle cx="225.1" cy="297.2" r="1.4" fill="#1616b4" opacity="0.9" filter="url(#b04)"/>
<circle cx="208.7" cy="308.1" r="1.3" fill="#1616b4" opacity="0.9" filter="url(#b04)"/>
<circle cx="223.1" cy="311.7" r="1.3" fill="#1616b4" opacity="0.9" filter="url(#b04)"/>
<circle cx="213.0" cy="288.4" r="1.5" fill="#1616b4" opacity="0.9" filter="url(#b04)"/>
<circle cx="211.5" cy="304.0" r="1.5" fill="#1616b4" opacity="0.9" filter="url(#b04)"/>
<circle cx="205.3" cy="301.3" r="1.3" fill="#1616b4" opacity="0.9" filter="url(#b04)"/>
<circle cx="221.5" cy="317.6" r="1.4" fill="#1616b4" opacity="0.9" filter="url(#b04)"/>
<circle cx="219.4" cy="312.4" r="1.1" fill="#1616b4" opacity="0.9" filter="url(#b04)"/>
<circle cx="210.2" cy="299.5" r="1.1" fill="#1616b4" opacity="0.9" filter="url(#b04)"/>
<circle cx="208.7" cy="293.0" r="1.5" fill="#1616b4" opacity="0.9" filter="url(#b04)"/>
<circle cx="217.8" cy="322.7" r="1.5" fill="#3050d4" opacity="0.8" filter="url(#b04)"/>
<circle cx="231.2" cy="328.8" r="1.4" fill="#3050d4" opacity="0.8" filter="url(#b04)"/>
<circle cx="222.5" cy="313.0" r="1.2" fill="#3050d4" opacity="0.8" filter="url(#b04)"/>
<circle cx="210.3" cy="330.4" r="1.3" fill="#3050d4" opacity="0.8" filter="url(#b04)"/>
<circle cx="234.9" cy="334.5" r="0.9" fill="#3050d4" opacity="0.8" filter="url(#b04)"/>
<circle cx="228.1" cy="342.2" r="1.1" fill="#3050d4" opacity="0.8" filter="url(#b04)"/>
<circle cx="236.8" cy="330.3" r="1.4" fill="#3050d4" opacity="0.8" filter="url(#b04)"/>
<circle cx="241.8" cy="328.5" r="1.0" fill="#3050d4" opacity="0.8" filter="url(#b04)"/>
<circle cx="213.9" cy="331.5" r="1.0" fill="#3050d4" opacity="0.8" filter="url(#b04)"/>
<circle cx="226.7" cy="328.3" r="0.9" fill="#3050d4" opacity="0.8" filter="url(#b04)"/>
<circle cx="225.6" cy="326.9" r="1.2" fill="#3050d4" opacity="0.8" filter="url(#b04)"/>
<circle cx="238.0" cy="333.1" r="1.3" fill="#3050d4" opacity="0.8" filter="url(#b04)"/>
<circle cx="229.2" cy="315.9" r="1.0" fill="#3050d4" opacity="0.8" filter="url(#b04)"/>
<circle cx="231.1" cy="340.2" r="1.5" fill="#3050d4" opacity="0.8" filter="url(#b04)"/>
<circle cx="208.5" cy="317.5" r="1.3" fill="#3050d4" opacity="0.8" filter="url(#b04)"/>
<circle cx="206.8" cy="318.5" r="1.1" fill="#3050d4" opacity="0.8" filter="url(#b04)"/>
<circle cx="208.2" cy="319.1" r="1.0" fill="#3050d4" opacity="0.8" filter="url(#b04)"/>
<circle cx="212.4" cy="331.0" r="1.0" fill="#3050d4" opacity="0.8" filter="url(#b04)"/>
<circle cx="224.2" cy="325.2" r="1.1" fill="#3050d4" opacity="0.8" filter="url(#b04)"/>
<circle cx="233.0" cy="330.9" r="1.1" fill="#3050d4" opacity="0.8" filter="url(#b04)"/>
<circle cx="221.9" cy="335.2" r="0.9" fill="#3050d4" opacity="0.8" filter="url(#b04)"/>
<circle cx="212.8" cy="323.9" r="0.9" fill="#3050d4" opacity="0.8" filter="url(#b04)"/>
<circle cx="241.3" cy="324.5" r="1.1" fill="#3050d4" opacity="0.8" filter="url(#b04)"/>
<circle cx="219.4" cy="340.6" r="1.1" fill="#3050d4" opacity="0.8" filter="url(#b04)"/>
<circle cx="232.1" cy="343.7" r="1.2" fill="#3050d4" opacity="0.8" filter="url(#b04)"/>
<circle cx="242.5" cy="329.8" r="1.1" fill="#3050d4" opacity="0.8" filter="url(#b04)"/>
<circle cx="224.7" cy="322.7" r="1.2" fill="#3050d4" opacity="0.8" filter="url(#b04)"/>
<circle cx="238.2" cy="319.2" r="1.0" fill="#3050d4" opacity="0.8" filter="url(#b04)"/>
<circle cx="213.9" cy="329.5" r="1.4" fill="#3050d4" opacity="0.8" filter="url(#b04)"/>
<circle cx="228.2" cy="326.9" r="1.4" fill="#3050d4" opacity="0.8" filter="url(#b04)"/>
<circle cx="231.8" cy="300.0" r="1.0" fill="#3050d4" opacity="0.7" filter="url(#b04)"/>
<circle cx="234.5" cy="305.0" r="1.2" fill="#3050d4" opacity="0.7" filter="url(#b04)"/>
<circle cx="232.8" cy="302.0" r="1.0" fill="#3050d4" opacity="0.7" filter="url(#b04)"/>
<circle cx="243.1" cy="312.0" r="1.2" fill="#3050d4" opacity="0.7" filter="url(#b04)"/>
<circle cx="235.0" cy="311.8" r="1.2" fill="#3050d4" opacity="0.7" filter="url(#b04)"/>
<circle cx="234.5" cy="302.7" r="1.0" fill="#3050d4" opacity="0.7" filter="url(#b04)"/>
<circle cx="240.0" cy="305.9" r="0.9" fill="#3050d4" opacity="0.7" filter="url(#b04)"/>
<circle cx="239.1" cy="307.7" r="1.0" fill="#3050d4" opacity="0.7" filter="url(#b04)"/>
<circle cx="209.5" cy="282.4" r="0.8" fill="#4464d8" opacity="0.6" filter="url(#b04)"/>
<circle cx="253.4" cy="259.4" r="1.2" fill="#4464d8" opacity="0.6" filter="url(#b04)"/>
<circle cx="201.8" cy="262.5" r="1.2" fill="#4464d8" opacity="0.6" filter="url(#b04)"/>
<circle cx="225.7" cy="264.7" r="1.2" fill="#4464d8" opacity="0.6" filter="url(#b04)"/>
<circle cx="230.8" cy="273.7" r="1.1" fill="#4464d8" opacity="0.6" filter="url(#b04)"/>
<circle cx="208.6" cy="265.1" r="1.2" fill="#4464d8" opacity="0.6" filter="url(#b04)"/>
<circle cx="225.8" cy="282.9" r="0.8" fill="#4464d8" opacity="0.6" filter="url(#b04)"/>
<circle cx="217.4" cy="261.9" r="1.1" fill="#4464d8" opacity="0.6" filter="url(#b04)"/>
<circle cx="211.9" cy="275.4" r="1.0" fill="#4464d8" opacity="0.6" filter="url(#b04)"/>
<circle cx="241.9" cy="267.2" r="1.2" fill="#4464d8" opacity="0.6" filter="url(#b04)"/>
<circle cx="207.0" cy="277.4" r="1.1" fill="#4464d8" opacity="0.6" filter="url(#b04)"/>
<circle cx="238.5" cy="260.5" r="1.0" fill="#4464d8" opacity="0.6" filter="url(#b04)"/>
<circle cx="246.6" cy="272.0" r="1.3" fill="#4464d8" opacity="0.6" filter="url(#b04)"/>
<circle cx="203.6" cy="278.2" r="1.1" fill="#4464d8" opacity="0.6" filter="url(#b04)"/>
<ellipse cx="191.6" cy="255.0" rx="7.8" ry="6.8" fill="#a0b8ec" opacity="0.55" transform="rotate(0 191.6 255.0)" filter="url(#b1)"/>
<ellipse cx="191.6" cy="255.0" rx="6.0" ry="5.0" fill="#4a38dc" opacity="1" transform="rotate(0 191.6 255.0)" filter="url(#b05)"/>
<ellipse cx="191.6" cy="255.0" rx="5.5" ry="4.5" fill="none" stroke="#3424cc" stroke-width="1.3" opacity="0.75" transform="rotate(0 191.6 255.0)" filter="url(#b05)"/>
<circle cx="194.1" cy="253.5" r="1.4" fill="#8a6ad8" opacity="0.75" filter="url(#b06)"/>
<circle cx="190.5" cy="252.4" r="1.5" fill="#8a6ad8" opacity="0.75" filter="url(#b06)"/>
<circle cx="194.0" cy="255.5" r="1.4" fill="#2a1aa8" opacity="0.85" filter="url(#b06)"/>
<circle cx="189.3" cy="257.8" r="1.2" fill="#2a1aa8" opacity="0.85" filter="url(#b06)"/>
<circle cx="191.4" cy="251.4" r="1.3" fill="#2a1aa8" opacity="0.85" filter="url(#b06)"/>
<circle cx="192.2" cy="257.6" r="1.1" fill="#2a1aa8" opacity="0.85" filter="url(#b06)"/>
<ellipse cx="213.5" cy="268.5" rx="9.8" ry="8.8" fill="#a0b8ec" opacity="0.55" transform="rotate(0 213.5 268.5)" filter="url(#b1)"/>
<ellipse cx="213.5" cy="268.5" rx="8.0" ry="7.0" fill="#6444d4" opacity="1" transform="rotate(0 213.5 268.5)" filter="url(#b05)"/>
<ellipse cx="213.5" cy="268.5" rx="7.5" ry="6.5" fill="none" stroke="#4a30cc" stroke-width="1.3" opacity="0.75" transform="rotate(0 213.5 268.5)" filter="url(#b05)"/>
<circle cx="216.3" cy="267.7" r="1.2" fill="#a080e0" opacity="0.75" filter="url(#b06)"/>
<circle cx="209.8" cy="268.4" r="1.6" fill="#a080e0" opacity="0.75" filter="url(#b06)"/>
<circle cx="211.3" cy="266.5" r="1.5" fill="#a080e0" opacity="0.75" filter="url(#b06)"/>
<circle cx="214.8" cy="272.5" r="1.5" fill="#2a1aa8" opacity="0.85" filter="url(#b06)"/>
<circle cx="214.2" cy="265.0" r="1.0" fill="#2a1aa8" opacity="0.85" filter="url(#b06)"/>
<circle cx="218.5" cy="267.1" r="1.3" fill="#2a1aa8" opacity="0.85" filter="url(#b06)"/>
<circle cx="214.6" cy="270.3" r="1.4" fill="#2a1aa8" opacity="0.85" filter="url(#b06)"/>
<circle cx="213.8" cy="271.1" r="1.6" fill="#2a1aa8" opacity="0.85" filter="url(#b06)"/>
<circle cx="215.2" cy="271.1" r="0.9" fill="#2a1aa8" opacity="0.85" filter="url(#b06)"/>
<circle cx="212.1" cy="267.1" r="1.4" fill="#2a1aa8" opacity="0.85" filter="url(#b06)"/>
<circle cx="209.5" cy="268.8" r="1.4" fill="#2a1aa8" opacity="0.85" filter="url(#b06)"/>
<circle cx="218.3" cy="268.7" r="0.9" fill="#2a1aa8" opacity="0.85" filter="url(#b06)"/>
<circle cx="210.5" cy="265.2" r="1.0" fill="#2a1aa8" opacity="0.85" filter="url(#b06)"/>
<ellipse cx="241.1" cy="262.2" rx="8.8" ry="7.3" fill="#a0b8ec" opacity="0.55" transform="rotate(0 241.1 262.2)" filter="url(#b1)"/>
<ellipse cx="241.1" cy="262.2" rx="7.0" ry="5.5" fill="#6c4ecc" opacity="1" transform="rotate(0 241.1 262.2)" filter="url(#b05)"/>
<ellipse cx="241.1" cy="262.2" rx="6.5" ry="5.0" fill="none" stroke="#5238c4" stroke-width="1.3" opacity="0.75" transform="rotate(0 241.1 262.2)" filter="url(#b05)"/>
<circle cx="240.3" cy="260.0" r="1.2" fill="#a888e0" opacity="0.75" filter="url(#b06)"/>
<circle cx="240.2" cy="261.4" r="1.3" fill="#a888e0" opacity="0.75" filter="url(#b06)"/>
<circle cx="244.1" cy="261.3" r="1.1" fill="#a888e0" opacity="0.75" filter="url(#b06)"/>
<circle cx="245.7" cy="261.7" r="1.2" fill="#3020a8" opacity="0.85" filter="url(#b06)"/>
<circle cx="242.2" cy="265.4" r="0.9" fill="#3020a8" opacity="0.85" filter="url(#b06)"/>
<circle cx="240.1" cy="262.3" r="1.5" fill="#3020a8" opacity="0.85" filter="url(#b06)"/>
<circle cx="240.5" cy="263.4" r="1.1" fill="#3020a8" opacity="0.85" filter="url(#b06)"/>
<circle cx="243.1" cy="261.8" r="1.2" fill="#3020a8" opacity="0.85" filter="url(#b06)"/>
<circle cx="238.6" cy="261.3" r="1.3" fill="#3020a8" opacity="0.85" filter="url(#b06)"/>
<circle cx="244.4" cy="263.0" r="1.6" fill="#3020a8" opacity="0.85" filter="url(#b06)"/>
<circle cx="236.8" cy="262.5" r="1.1" fill="#3020a8" opacity="0.85" filter="url(#b06)"/>
<ellipse cx="264.3" cy="263.5" rx="7.3" ry="7.8" fill="#a0b8ec" opacity="0.55" transform="rotate(0 264.3 263.5)" filter="url(#b1)"/>
<ellipse cx="264.3" cy="263.5" rx="5.5" ry="6.0" fill="#6c4ecc" opacity="1" transform="rotate(0 264.3 263.5)" filter="url(#b05)"/>
<ellipse cx="264.3" cy="263.5" rx="5.0" ry="5.5" fill="none" stroke="#5238c4" stroke-width="1.3" opacity="0.75" transform="rotate(0 264.3 263.5)" filter="url(#b05)"/>
<circle cx="264.2" cy="261.8" r="1.5" fill="#a888e0" opacity="0.75" filter="url(#b06)"/>
<circle cx="266.3" cy="262.9" r="1.5" fill="#a888e0" opacity="0.75" filter="url(#b06)"/>
<circle cx="263.5" cy="265.3" r="1.1" fill="#a888e0" opacity="0.75" filter="url(#b06)"/>
<circle cx="263.6" cy="266.8" r="1.4" fill="#3020a8" opacity="0.85" filter="url(#b06)"/>
<circle cx="263.3" cy="260.2" r="0.9" fill="#3020a8" opacity="0.85" filter="url(#b06)"/>
<circle cx="264.3" cy="262.8" r="1.1" fill="#3020a8" opacity="0.85" filter="url(#b06)"/>
<circle cx="265.8" cy="265.6" r="1.6" fill="#3020a8" opacity="0.85" filter="url(#b06)"/>
<circle cx="260.6" cy="262.8" r="1.4" fill="#3020a8" opacity="0.85" filter="url(#b06)"/>
<circle cx="267.0" cy="265.7" r="1.1" fill="#3020a8" opacity="0.85" filter="url(#b06)"/>
<circle cx="262.5" cy="261.7" r="1.3" fill="#3020a8" opacity="0.85" filter="url(#b06)"/>
<ellipse cx="177.4" cy="309.4" rx="7.8" ry="6.6" fill="#a0b8ec" opacity="0.55" transform="rotate(0 177.4 309.4)" filter="url(#b1)"/>
<ellipse cx="177.4" cy="309.4" rx="6.0" ry="4.8" fill="#2a1cd8" opacity="1" transform="rotate(0 177.4 309.4)" filter="url(#b05)"/>
<ellipse cx="177.4" cy="309.4" rx="5.5" ry="4.3" fill="none" stroke="#1c10c4" stroke-width="1.3" opacity="0.75" transform="rotate(0 177.4 309.4)" filter="url(#b05)"/>
<circle cx="176.4" cy="310.4" r="1.1" fill="#5a40d8" opacity="0.75" filter="url(#b06)"/>
<circle cx="180.9" cy="307.9" r="1.0" fill="#2a1aa8" opacity="0.85" filter="url(#b06)"/>
<circle cx="178.7" cy="309.8" r="1.5" fill="#2a1aa8" opacity="0.85" filter="url(#b06)"/>
<circle cx="181.2" cy="307.8" r="1.2" fill="#2a1aa8" opacity="0.85" filter="url(#b06)"/>
<ellipse cx="224.2" cy="337.6" rx="8.4" ry="7.4" fill="#a0b8ec" opacity="0.55" transform="rotate(0 224.2 337.6)" filter="url(#b1)"/>
<ellipse cx="224.2" cy="337.6" rx="6.6" ry="5.6" fill="#2a1cd8" opacity="1" transform="rotate(0 224.2 337.6)" filter="url(#b05)"/>
<ellipse cx="224.2" cy="337.6" rx="6.1" ry="5.1" fill="none" stroke="#1c10c4" stroke-width="1.3" opacity="0.75" transform="rotate(0 224.2 337.6)" filter="url(#b05)"/>
<circle cx="225.8" cy="338.0" r="1.3" fill="#6a50d8" opacity="0.75" filter="url(#b06)"/>
<circle cx="223.6" cy="333.6" r="1.3" fill="#2a1aa8" opacity="0.85" filter="url(#b06)"/>
<circle cx="222.9" cy="336.5" r="1.0" fill="#2a1aa8" opacity="0.85" filter="url(#b06)"/>
<circle cx="226.6" cy="340.1" r="1.2" fill="#2a1aa8" opacity="0.85" filter="url(#b06)"/>
<circle cx="228.5" cy="337.1" r="1.2" fill="#2a1aa8" opacity="0.85" filter="url(#b06)"/>
</g>
<rect x="168.8" y="252.8" width="103.80000000000001" height="94.5" fill="none" stroke="#111" stroke-width="1.35"/>
<clipPath id="cpDK"><rect x="275.5" y="252.8" width="102.80000000000001" height="94.5"/></clipPath>
<g clip-path="url(#cpDK)">
<rect x="275.5" y="252.8" width="102.80000000000001" height="94.5" fill="#d6e1e8"/>
<path d="M276 256 L300 256 L330 258 L345 265 L352 282 L330 288 L300 285 L276 288Z" fill="#bcd2f0" opacity="0.85" filter="url(#b2)"/>
<path d="M276 280 L290 276 L305 278 L318 283 L328 294 L327 310 L321 325 L315 347 L300 348 L285 348 L277 340 L276 320Z" fill="#7896e6" opacity="0.95" filter="url(#b15)"/>
<path d="M277 288 L300 283 L318 291 L321 310 L313 326 L296 330 L281 323Z" fill="#5870dc" opacity="0.75" filter="url(#b2)"/>
<circle cx="287.4" cy="302.8" r="2.4" fill="#4a66dc" opacity="0.5" filter="url(#b1)"/>
<circle cx="298.1" cy="296.4" r="1.4" fill="#a8c0f0" opacity="0.5" filter="url(#b1)"/>
<circle cx="313.0" cy="340.1" r="1.9" fill="#4a66dc" opacity="0.5" filter="url(#b1)"/>
<circle cx="310.6" cy="335.5" r="1.5" fill="#a8c0f0" opacity="0.5" filter="url(#b1)"/>
<circle cx="291.4" cy="307.9" r="2.2" fill="#a8c0f0" opacity="0.5" filter="url(#b1)"/>
<circle cx="305.5" cy="309.8" r="1.7" fill="#a8c0f0" opacity="0.5" filter="url(#b1)"/>
<circle cx="299.9" cy="345.9" r="2.4" fill="#a8c0f0" opacity="0.5" filter="url(#b1)"/>
<circle cx="308.2" cy="334.4" r="2.2" fill="#4a66dc" opacity="0.5" filter="url(#b1)"/>
<circle cx="293.2" cy="323.4" r="2.0" fill="#a8c0f0" opacity="0.5" filter="url(#b1)"/>
<circle cx="325.5" cy="310.6" r="1.5" fill="#a8c0f0" opacity="0.5" filter="url(#b1)"/>
<circle cx="321.0" cy="314.2" r="1.3" fill="#a8c0f0" opacity="0.5" filter="url(#b1)"/>
<circle cx="285.8" cy="324.9" r="2.2" fill="#6a88e6" opacity="0.5" filter="url(#b1)"/>
<circle cx="283.6" cy="317.7" r="2.1" fill="#a8c0f0" opacity="0.5" filter="url(#b1)"/>
<circle cx="297.7" cy="314.2" r="1.9" fill="#a8c0f0" opacity="0.5" filter="url(#b1)"/>
<circle cx="289.6" cy="292.4" r="2.0" fill="#4a66dc" opacity="0.5" filter="url(#b1)"/>
<circle cx="281.8" cy="338.1" r="2.1" fill="#6a88e6" opacity="0.5" filter="url(#b1)"/>
<circle cx="285.8" cy="324.3" r="1.9" fill="#a8c0f0" opacity="0.5" filter="url(#b1)"/>
<circle cx="304.8" cy="292.3" r="2.2" fill="#a8c0f0" opacity="0.5" filter="url(#b1)"/>
<circle cx="314.3" cy="341.5" r="1.4" fill="#a8c0f0" opacity="0.5" filter="url(#b1)"/>
<circle cx="297.2" cy="281.3" r="1.5" fill="#6a88e6" opacity="0.5" filter="url(#b1)"/>
<circle cx="302.2" cy="312.5" r="2.1" fill="#4a66dc" opacity="0.5" filter="url(#b1)"/>
<circle cx="299.9" cy="325.4" r="1.5" fill="#a8c0f0" opacity="0.5" filter="url(#b1)"/>
<circle cx="316.3" cy="285.8" r="1.4" fill="#a8c0f0" opacity="0.5" filter="url(#b1)"/>
<circle cx="288.3" cy="302.8" r="2.2" fill="#4a66dc" opacity="0.5" filter="url(#b1)"/>
<circle cx="325.7" cy="309.1" r="2.2" fill="#4a66dc" opacity="0.5" filter="url(#b1)"/>
<circle cx="298.2" cy="340.0" r="2.6" fill="#a8c0f0" opacity="0.5" filter="url(#b1)"/>
<circle cx="286.5" cy="284.3" r="2.4" fill="#a8c0f0" opacity="0.5" filter="url(#b1)"/>
<circle cx="284.7" cy="329.7" r="2.3" fill="#6a88e6" opacity="0.5" filter="url(#b1)"/>
<circle cx="289.3" cy="293.2" r="2.3" fill="#a8c0f0" opacity="0.5" filter="url(#b1)"/>
<circle cx="278.3" cy="319.5" r="1.8" fill="#4a66dc" opacity="0.5" filter="url(#b1)"/>
<circle cx="293.0" cy="319.4" r="2.5" fill="#4a66dc" opacity="0.5" filter="url(#b1)"/>
<circle cx="311.1" cy="294.3" r="2.2" fill="#4a66dc" opacity="0.5" filter="url(#b1)"/>
<circle cx="298.9" cy="333.0" r="1.4" fill="#6a88e6" opacity="0.5" filter="url(#b1)"/>
<circle cx="317.6" cy="289.3" r="2.5" fill="#a8c0f0" opacity="0.5" filter="url(#b1)"/>
<circle cx="319.5" cy="318.4" r="2.0" fill="#6a88e6" opacity="0.5" filter="url(#b1)"/>
<circle cx="311.9" cy="334.2" r="1.3" fill="#6a88e6" opacity="0.5" filter="url(#b1)"/>
<circle cx="293.8" cy="286.9" r="1.9" fill="#a8c0f0" opacity="0.5" filter="url(#b1)"/>
<circle cx="277.6" cy="336.3" r="1.5" fill="#4a66dc" opacity="0.5" filter="url(#b1)"/>
<circle cx="318.6" cy="324.9" r="2.4" fill="#6a88e6" opacity="0.5" filter="url(#b1)"/>
<circle cx="299.3" cy="292.5" r="2.0" fill="#a8c0f0" opacity="0.5" filter="url(#b1)"/>
<circle cx="294.8" cy="314.0" r="2.5" fill="#6a88e6" opacity="0.5" filter="url(#b1)"/>
<circle cx="306.6" cy="279.1" r="2.4" fill="#4a66dc" opacity="0.5" filter="url(#b1)"/>
<circle cx="313.8" cy="299.9" r="1.8" fill="#6a88e6" opacity="0.5" filter="url(#b1)"/>
<circle cx="306.1" cy="300.0" r="1.6" fill="#4a66dc" opacity="0.5" filter="url(#b1)"/>
<circle cx="321.6" cy="319.8" r="1.5" fill="#a8c0f0" opacity="0.5" filter="url(#b1)"/>
<circle cx="310.9" cy="295.6" r="1.4" fill="#6a88e6" opacity="0.5" filter="url(#b1)"/>
<circle cx="305.8" cy="318.1" r="2.6" fill="#4a66dc" opacity="0.5" filter="url(#b1)"/>
<circle cx="277.8" cy="316.4" r="2.4" fill="#4a66dc" opacity="0.5" filter="url(#b1)"/>
<circle cx="316.3" cy="321.6" r="1.4" fill="#a8c0f0" opacity="0.5" filter="url(#b1)"/>
<circle cx="317.2" cy="333.1" r="2.4" fill="#4a66dc" opacity="0.5" filter="url(#b1)"/>
<circle cx="291.8" cy="331.0" r="1.8" fill="#a8c0f0" opacity="0.5" filter="url(#b1)"/>
<circle cx="320.4" cy="293.7" r="2.2" fill="#a8c0f0" opacity="0.5" filter="url(#b1)"/>
<circle cx="293.4" cy="326.7" r="1.7" fill="#a8c0f0" opacity="0.5" filter="url(#b1)"/>
<circle cx="295.1" cy="293.5" r="2.6" fill="#4a66dc" opacity="0.5" filter="url(#b1)"/>
<circle cx="283.8" cy="290.8" r="1.9" fill="#a8c0f0" opacity="0.5" filter="url(#b1)"/>
<circle cx="299.2" cy="316.9" r="2.5" fill="#6a88e6" opacity="0.5" filter="url(#b1)"/>
<circle cx="306.5" cy="286.4" r="1.7" fill="#a8c0f0" opacity="0.5" filter="url(#b1)"/>
<circle cx="313.8" cy="315.7" r="1.4" fill="#6a88e6" opacity="0.5" filter="url(#b1)"/>
<circle cx="285.9" cy="342.6" r="1.5" fill="#a8c0f0" opacity="0.5" filter="url(#b1)"/>
<circle cx="306.2" cy="347.1" r="2.6" fill="#6a88e6" opacity="0.5" filter="url(#b1)"/>
<path d="M340 322 L355 318 L366 324 L369 338 L361 347 L345 347 L338 338Z" fill="#96c4ea" opacity="0.9" filter="url(#b2)"/>
<path d="M330 300 L352 298 L360 308 L352 320 L335 320Z" fill="#a8c6ec" opacity="0.85" filter="url(#b2)"/>
<path d="M348 272 L366 276 L370 290 L356 292 L346 284Z" fill="#b4cdec" opacity="0.8" filter="url(#b2)"/>
<circle cx="311.9" cy="327.9" r="1.9" fill="#1a1ebc" opacity="0.85" filter="url(#b04)"/>
<circle cx="319.6" cy="299.0" r="1.3" fill="#1a1ebc" opacity="0.85" filter="url(#b04)"/>
<circle cx="322.7" cy="315.3" r="1.8" fill="#1a1ebc" opacity="0.85" filter="url(#b04)"/>
<circle cx="308.6" cy="293.1" r="1.2" fill="#1a1ebc" opacity="0.85" filter="url(#b04)"/>
<circle cx="278.5" cy="308.3" r="1.9" fill="#1a1ebc" opacity="0.85" filter="url(#b04)"/>
<circle cx="290.7" cy="312.1" r="1.3" fill="#1a1ebc" opacity="0.85" filter="url(#b04)"/>
<circle cx="288.6" cy="280.1" r="1.3" fill="#1a1ebc" opacity="0.85" filter="url(#b04)"/>
<circle cx="278.5" cy="281.3" r="1.9" fill="#1a1ebc" opacity="0.85" filter="url(#b04)"/>
<circle cx="305.9" cy="327.8" r="1.2" fill="#1a1ebc" opacity="0.85" filter="url(#b04)"/>
<circle cx="290.1" cy="322.3" r="1.2" fill="#1a1ebc" opacity="0.85" filter="url(#b04)"/>
<circle cx="292.8" cy="278.0" r="1.5" fill="#1a1ebc" opacity="0.85" filter="url(#b04)"/>
<circle cx="301.3" cy="319.9" r="1.8" fill="#1a1ebc" opacity="0.85" filter="url(#b04)"/>
<circle cx="285.1" cy="338.2" r="1.8" fill="#1a1ebc" opacity="0.85" filter="url(#b04)"/>
<circle cx="280.5" cy="320.1" r="1.8" fill="#1a1ebc" opacity="0.85" filter="url(#b04)"/>
<circle cx="277.3" cy="298.8" r="1.7" fill="#1a1ebc" opacity="0.85" filter="url(#b04)"/>
<circle cx="292.3" cy="305.9" r="1.8" fill="#1a1ebc" opacity="0.85" filter="url(#b04)"/>
<circle cx="319.4" cy="287.3" r="1.2" fill="#1a1ebc" opacity="0.85" filter="url(#b04)"/>
<circle cx="286.9" cy="314.1" r="1.9" fill="#1a1ebc" opacity="0.85" filter="url(#b04)"/>
<circle cx="294.6" cy="302.0" r="1.5" fill="#1a1ebc" opacity="0.85" filter="url(#b04)"/>
<circle cx="311.4" cy="338.3" r="1.3" fill="#1a1ebc" opacity="0.85" filter="url(#b04)"/>
<circle cx="288.0" cy="320.5" r="1.9" fill="#1a1ebc" opacity="0.85" filter="url(#b04)"/>
<circle cx="300.8" cy="278.3" r="1.7" fill="#1a1ebc" opacity="0.85" filter="url(#b04)"/>
<circle cx="309.9" cy="315.6" r="1.8" fill="#1a1ebc" opacity="0.85" filter="url(#b04)"/>
<circle cx="305.1" cy="302.0" r="1.6" fill="#1a1ebc" opacity="0.85" filter="url(#b04)"/>
<circle cx="290.2" cy="294.2" r="1.6" fill="#1a1ebc" opacity="0.85" filter="url(#b04)"/>
<circle cx="281.2" cy="334.3" r="2.0" fill="#1a1ebc" opacity="0.85" filter="url(#b04)"/>
<circle cx="283.8" cy="321.3" r="1.5" fill="#1a1ebc" opacity="0.85" filter="url(#b04)"/>
<circle cx="308.5" cy="284.8" r="1.6" fill="#1a1ebc" opacity="0.85" filter="url(#b04)"/>
<circle cx="286.7" cy="332.0" r="1.4" fill="#1a1ebc" opacity="0.85" filter="url(#b04)"/>
<circle cx="307.5" cy="329.1" r="1.9" fill="#1a1ebc" opacity="0.85" filter="url(#b04)"/>
<circle cx="316.5" cy="314.1" r="1.5" fill="#1a1ebc" opacity="0.85" filter="url(#b04)"/>
<circle cx="312.9" cy="307.8" r="1.9" fill="#1a1ebc" opacity="0.85" filter="url(#b04)"/>
<circle cx="287.1" cy="341.7" r="1.9" fill="#1a1ebc" opacity="0.85" filter="url(#b04)"/>
<circle cx="296.2" cy="291.3" r="1.8" fill="#1a1ebc" opacity="0.85" filter="url(#b04)"/>
<circle cx="277.4" cy="323.5" r="1.2" fill="#1a1ebc" opacity="0.85" filter="url(#b04)"/>
<circle cx="311.1" cy="301.2" r="1.4" fill="#1a1ebc" opacity="0.85" filter="url(#b04)"/>
<circle cx="295.6" cy="341.3" r="1.5" fill="#1a1ebc" opacity="0.85" filter="url(#b04)"/>
<circle cx="310.2" cy="337.9" r="1.2" fill="#1a1ebc" opacity="0.85" filter="url(#b04)"/>
<circle cx="277.1" cy="327.1" r="1.4" fill="#1a1ebc" opacity="0.85" filter="url(#b04)"/>
<circle cx="294.4" cy="299.5" r="1.5" fill="#1a1ebc" opacity="0.85" filter="url(#b04)"/>
<circle cx="290.5" cy="339.3" r="1.6" fill="#1a1ebc" opacity="0.85" filter="url(#b04)"/>
<circle cx="300.8" cy="343.2" r="1.8" fill="#1a1ebc" opacity="0.85" filter="url(#b04)"/>
<circle cx="291.6" cy="282.4" r="1.2" fill="#1a1ebc" opacity="0.85" filter="url(#b04)"/>
<circle cx="321.3" cy="294.0" r="1.5" fill="#1a1ebc" opacity="0.85" filter="url(#b04)"/>
<circle cx="307.7" cy="344.9" r="1.4" fill="#1a1ebc" opacity="0.85" filter="url(#b04)"/>
<circle cx="278.7" cy="332.3" r="1.9" fill="#1a1ebc" opacity="0.85" filter="url(#b04)"/>
<circle cx="316.2" cy="307.6" r="1.5" fill="#1a1ebc" opacity="0.85" filter="url(#b04)"/>
<circle cx="283.3" cy="343.4" r="1.7" fill="#1a1ebc" opacity="0.85" filter="url(#b04)"/>
<circle cx="317.9" cy="286.9" r="1.9" fill="#1a1ebc" opacity="0.85" filter="url(#b04)"/>
<circle cx="282.9" cy="297.8" r="1.6" fill="#1a1ebc" opacity="0.85" filter="url(#b04)"/>
<circle cx="294.3" cy="330.1" r="1.6" fill="#1a1ebc" opacity="0.85" filter="url(#b04)"/>
<circle cx="296.7" cy="305.8" r="1.7" fill="#1a1ebc" opacity="0.85" filter="url(#b04)"/>
<circle cx="310.6" cy="304.6" r="1.5" fill="#1a1ebc" opacity="0.85" filter="url(#b04)"/>
<circle cx="322.5" cy="318.1" r="1.4" fill="#1a1ebc" opacity="0.85" filter="url(#b04)"/>
<circle cx="283.0" cy="318.9" r="1.7" fill="#1a1ebc" opacity="0.85" filter="url(#b04)"/>
<circle cx="312.3" cy="328.5" r="1.2" fill="#1a1ebc" opacity="0.85" filter="url(#b04)"/>
<circle cx="276.1" cy="292.1" r="1.6" fill="#1a1ebc" opacity="0.85" filter="url(#b04)"/>
<circle cx="308.9" cy="315.3" r="2.0" fill="#1a1ebc" opacity="0.85" filter="url(#b04)"/>
<circle cx="303.6" cy="336.4" r="2.0" fill="#1a1ebc" opacity="0.85" filter="url(#b04)"/>
<circle cx="287.6" cy="281.2" r="1.8" fill="#1a1ebc" opacity="0.85" filter="url(#b04)"/>
<circle cx="276.8" cy="295.4" r="2.0" fill="#1a1ebc" opacity="0.85" filter="url(#b04)"/>
<circle cx="286.2" cy="279.4" r="1.8" fill="#1a1ebc" opacity="0.85" filter="url(#b04)"/>
<circle cx="325.5" cy="295.2" r="1.5" fill="#1a1ebc" opacity="0.85" filter="url(#b04)"/>
<circle cx="278.2" cy="308.7" r="1.4" fill="#1a1ebc" opacity="0.85" filter="url(#b04)"/>
<circle cx="293.2" cy="305.5" r="2.0" fill="#1a1ebc" opacity="0.85" filter="url(#b04)"/>
<circle cx="314.8" cy="295.3" r="1.5" fill="#1a1ebc" opacity="0.85" filter="url(#b04)"/>
<circle cx="304.1" cy="303.6" r="1.3" fill="#1a1ebc" opacity="0.85" filter="url(#b04)"/>
<circle cx="315.6" cy="339.5" r="1.8" fill="#1a1ebc" opacity="0.85" filter="url(#b04)"/>
<circle cx="288.4" cy="312.1" r="2.0" fill="#1a1ebc" opacity="0.85" filter="url(#b04)"/>
<circle cx="312.1" cy="328.6" r="2.0" fill="#1a1ebc" opacity="0.85" filter="url(#b04)"/>
<circle cx="318.9" cy="323.8" r="1.3" fill="#1a1ebc" opacity="0.85" filter="url(#b04)"/>
<circle cx="313.3" cy="305.2" r="1.6" fill="#1a1ebc" opacity="0.85" filter="url(#b04)"/>
<circle cx="311.6" cy="307.9" r="1.7" fill="#1a1ebc" opacity="0.85" filter="url(#b04)"/>
<circle cx="299.7" cy="317.6" r="1.6" fill="#1a1ebc" opacity="0.85" filter="url(#b04)"/>
<circle cx="309.7" cy="309.9" r="1.5" fill="#1a1ebc" opacity="0.85" filter="url(#b04)"/>
<circle cx="304.4" cy="303.4" r="1.9" fill="#1a1ebc" opacity="0.85" filter="url(#b04)"/>
<circle cx="317.2" cy="338.6" r="1.5" fill="#1a1ebc" opacity="0.85" filter="url(#b04)"/>
<circle cx="289.9" cy="323.5" r="1.9" fill="#1a1ebc" opacity="0.85" filter="url(#b04)"/>
<circle cx="279.7" cy="333.4" r="1.7" fill="#1a1ebc" opacity="0.85" filter="url(#b04)"/>
<circle cx="289.6" cy="336.6" r="1.9" fill="#1a1ebc" opacity="0.85" filter="url(#b04)"/>
<circle cx="294.1" cy="318.4" r="1.7" fill="#1a1ebc" opacity="0.85" filter="url(#b04)"/>
<circle cx="315.4" cy="302.2" r="1.4" fill="#1a1ebc" opacity="0.85" filter="url(#b04)"/>
<circle cx="284.8" cy="302.3" r="1.7" fill="#1a1ebc" opacity="0.85" filter="url(#b04)"/>
<circle cx="283.9" cy="323.7" r="1.3" fill="#1a1ebc" opacity="0.85" filter="url(#b04)"/>
<circle cx="309.9" cy="341.6" r="1.5" fill="#1a1ebc" opacity="0.85" filter="url(#b04)"/>
<circle cx="294.8" cy="338.2" r="1.5" fill="#1a1ebc" opacity="0.85" filter="url(#b04)"/>
<circle cx="297.3" cy="326.6" r="1.5" fill="#1a1ebc" opacity="0.85" filter="url(#b04)"/>
<circle cx="295.0" cy="323.7" r="1.6" fill="#1a1ebc" opacity="0.85" filter="url(#b04)"/>
<circle cx="291.7" cy="323.7" r="1.4" fill="#1a1ebc" opacity="0.85" filter="url(#b04)"/>
<circle cx="291.1" cy="308.1" r="1.3" fill="#1a1ebc" opacity="0.85" filter="url(#b04)"/>
<circle cx="309.0" cy="328.6" r="1.3" fill="#1a1ebc" opacity="0.85" filter="url(#b04)"/>
<circle cx="282.8" cy="311.2" r="1.7" fill="#1a1ebc" opacity="0.85" filter="url(#b04)"/>
<circle cx="308.4" cy="313.7" r="1.8" fill="#1a1ebc" opacity="0.85" filter="url(#b04)"/>
<circle cx="289.1" cy="316.0" r="1.2" fill="#1a1ebc" opacity="0.85" filter="url(#b04)"/>
<circle cx="289.5" cy="318.5" r="1.4" fill="#1a1ebc" opacity="0.85" filter="url(#b04)"/>
<circle cx="304.3" cy="342.0" r="1.4" fill="#1a1ebc" opacity="0.85" filter="url(#b04)"/>
<circle cx="289.8" cy="307.5" r="1.6" fill="#1a1ebc" opacity="0.85" filter="url(#b04)"/>
<circle cx="301.7" cy="282.4" r="1.3" fill="#1a1ebc" opacity="0.85" filter="url(#b04)"/>
<circle cx="325.8" cy="296.9" r="1.8" fill="#1a1ebc" opacity="0.85" filter="url(#b04)"/>
<circle cx="295.5" cy="279.0" r="1.8" fill="#1a1ebc" opacity="0.85" filter="url(#b04)"/>
<circle cx="326.4" cy="307.0" r="1.7" fill="#1a1ebc" opacity="0.85" filter="url(#b04)"/>
<circle cx="289.4" cy="293.2" r="1.9" fill="#1a1ebc" opacity="0.85" filter="url(#b04)"/>
<circle cx="282.7" cy="320.5" r="2.0" fill="#1a1ebc" opacity="0.85" filter="url(#b04)"/>
<circle cx="320.3" cy="317.8" r="1.3" fill="#1a1ebc" opacity="0.85" filter="url(#b04)"/>
<circle cx="286.6" cy="337.9" r="1.3" fill="#1a1ebc" opacity="0.85" filter="url(#b04)"/>
<circle cx="299.2" cy="304.3" r="1.5" fill="#1a1ebc" opacity="0.85" filter="url(#b04)"/>
<circle cx="317.2" cy="283.8" r="1.7" fill="#1a1ebc" opacity="0.85" filter="url(#b04)"/>
<circle cx="298.7" cy="347.6" r="1.3" fill="#1a1ebc" opacity="0.85" filter="url(#b04)"/>
<circle cx="279.4" cy="304.6" r="1.3" fill="#1a1ebc" opacity="0.85" filter="url(#b04)"/>
<circle cx="288.1" cy="290.4" r="1.6" fill="#1a1ebc" opacity="0.85" filter="url(#b04)"/>
<circle cx="324.1" cy="297.2" r="1.5" fill="#1a1ebc" opacity="0.85" filter="url(#b04)"/>
<circle cx="296.1" cy="309.1" r="1.3" fill="#1a1ebc" opacity="0.85" filter="url(#b04)"/>
<circle cx="320.1" cy="317.1" r="1.2" fill="#1a1ebc" opacity="0.85" filter="url(#b04)"/>
<circle cx="301.8" cy="337.1" r="1.4" fill="#1a1ebc" opacity="0.85" filter="url(#b04)"/>
<circle cx="299.6" cy="335.3" r="1.4" fill="#1a1ebc" opacity="0.85" filter="url(#b04)"/>
<circle cx="293.5" cy="338.1" r="1.6" fill="#1a1ebc" opacity="0.85" filter="url(#b04)"/>
<circle cx="314.9" cy="336.7" r="1.3" fill="#1a1ebc" opacity="0.85" filter="url(#b04)"/>
<circle cx="297.2" cy="279.6" r="1.7" fill="#1a1ebc" opacity="0.85" filter="url(#b04)"/>
<circle cx="292.7" cy="289.7" r="2.0" fill="#1a1ebc" opacity="0.85" filter="url(#b04)"/>
<circle cx="285.7" cy="314.8" r="1.6" fill="#1a1ebc" opacity="0.85" filter="url(#b04)"/>
<circle cx="280.5" cy="303.6" r="1.7" fill="#1a1ebc" opacity="0.85" filter="url(#b04)"/>
<circle cx="291.5" cy="304.4" r="1.9" fill="#1a1ebc" opacity="0.85" filter="url(#b04)"/>
<circle cx="311.4" cy="298.1" r="1.4" fill="#1a1ebc" opacity="0.85" filter="url(#b04)"/>
<circle cx="295.8" cy="307.4" r="1.6" fill="#1a1ebc" opacity="0.85" filter="url(#b04)"/>
<circle cx="291.9" cy="285.5" r="1.4" fill="#1a1ebc" opacity="0.85" filter="url(#b04)"/>
<circle cx="309.9" cy="343.1" r="1.7" fill="#1a1ebc" opacity="0.85" filter="url(#b04)"/>
<circle cx="312.9" cy="286.2" r="1.9" fill="#1a1ebc" opacity="0.85" filter="url(#b04)"/>
<circle cx="293.8" cy="308.9" r="1.8" fill="#1a1ebc" opacity="0.85" filter="url(#b04)"/>
<circle cx="310.5" cy="328.5" r="1.2" fill="#1a1ebc" opacity="0.85" filter="url(#b04)"/>
<circle cx="287.4" cy="307.6" r="1.4" fill="#1a1ebc" opacity="0.85" filter="url(#b04)"/>
<circle cx="286.9" cy="346.1" r="1.7" fill="#1a1ebc" opacity="0.85" filter="url(#b04)"/>
<circle cx="297.1" cy="328.4" r="1.4" fill="#1a1ebc" opacity="0.85" filter="url(#b04)"/>
<circle cx="286.6" cy="289.0" r="1.9" fill="#1a1ebc" opacity="0.85" filter="url(#b04)"/>
<circle cx="282.5" cy="285.9" r="1.9" fill="#1a1ebc" opacity="0.85" filter="url(#b04)"/>
<circle cx="318.3" cy="311.8" r="1.2" fill="#1a1ebc" opacity="0.85" filter="url(#b04)"/>
<circle cx="313.5" cy="329.1" r="1.3" fill="#1a1ebc" opacity="0.85" filter="url(#b04)"/>
<circle cx="287.5" cy="327.9" r="1.8" fill="#1a1ebc" opacity="0.85" filter="url(#b04)"/>
<circle cx="317.7" cy="314.5" r="1.3" fill="#1a1ebc" opacity="0.85" filter="url(#b04)"/>
<circle cx="316.4" cy="327.5" r="1.6" fill="#1a1ebc" opacity="0.85" filter="url(#b04)"/>
<circle cx="300.2" cy="290.5" r="1.3" fill="#1a1ebc" opacity="0.85" filter="url(#b04)"/>
<circle cx="278.6" cy="292.1" r="1.9" fill="#1a1ebc" opacity="0.85" filter="url(#b04)"/>
<circle cx="312.7" cy="307.9" r="1.5" fill="#1a1ebc" opacity="0.85" filter="url(#b04)"/>
<circle cx="282.9" cy="287.5" r="1.6" fill="#1a1ebc" opacity="0.85" filter="url(#b04)"/>
<circle cx="315.4" cy="339.0" r="1.8" fill="#1a1ebc" opacity="0.85" filter="url(#b04)"/>
<circle cx="312.8" cy="327.8" r="1.4" fill="#1a1ebc" opacity="0.85" filter="url(#b04)"/>
<circle cx="289.4" cy="315.5" r="1.4" fill="#1a1ebc" opacity="0.85" filter="url(#b04)"/>
<circle cx="288.0" cy="346.1" r="1.5" fill="#1a1ebc" opacity="0.85" filter="url(#b04)"/>
<circle cx="284.1" cy="297.0" r="1.7" fill="#1a1ebc" opacity="0.85" filter="url(#b04)"/>
<circle cx="312.1" cy="290.3" r="1.3" fill="#1a1ebc" opacity="0.85" filter="url(#b04)"/>
<circle cx="285.6" cy="300.0" r="1.5" fill="#1a1ebc" opacity="0.85" filter="url(#b04)"/>
<circle cx="278.0" cy="301.3" r="1.7" fill="#1a1ebc" opacity="0.85" filter="url(#b04)"/>
<circle cx="286.9" cy="323.2" r="1.6" fill="#1a1ebc" opacity="0.85" filter="url(#b04)"/>
<circle cx="279.8" cy="311.3" r="1.2" fill="#1a1ebc" opacity="0.85" filter="url(#b04)"/>
<circle cx="316.6" cy="340.0" r="1.9" fill="#1a1ebc" opacity="0.85" filter="url(#b04)"/>
<circle cx="286.4" cy="296.2" r="1.4" fill="#1a1ebc" opacity="0.85" filter="url(#b04)"/>
<circle cx="306.4" cy="330.4" r="1.4" fill="#1a1ebc" opacity="0.85" filter="url(#b04)"/>
<circle cx="300.5" cy="331.3" r="1.8" fill="#1a1ebc" opacity="0.85" filter="url(#b04)"/>
<circle cx="323.0" cy="317.7" r="1.4" fill="#1a1ebc" opacity="0.85" filter="url(#b04)"/>
<circle cx="306.2" cy="283.2" r="1.2" fill="#1a1ebc" opacity="0.85" filter="url(#b04)"/>
<circle cx="286.1" cy="287.0" r="1.4" fill="#1a1ebc" opacity="0.85" filter="url(#b04)"/>
<circle cx="284.9" cy="301.2" r="1.6" fill="#1a1ebc" opacity="0.85" filter="url(#b04)"/>
<circle cx="293.1" cy="302.2" r="1.3" fill="#1a1ebc" opacity="0.85" filter="url(#b04)"/>
<circle cx="313.6" cy="308.8" r="1.8" fill="#1a1ebc" opacity="0.85" filter="url(#b04)"/>
<circle cx="281.9" cy="287.6" r="1.5" fill="#1a1ebc" opacity="0.85" filter="url(#b04)"/>
<circle cx="306.1" cy="305.7" r="1.8" fill="#1a1ebc" opacity="0.85" filter="url(#b04)"/>
<circle cx="297.6" cy="336.3" r="1.3" fill="#1a1ebc" opacity="0.85" filter="url(#b04)"/>
<circle cx="313.8" cy="328.9" r="1.5" fill="#1a1ebc" opacity="0.85" filter="url(#b04)"/>
<circle cx="310.5" cy="282.5" r="1.2" fill="#1a1ebc" opacity="0.85" filter="url(#b04)"/>
<circle cx="309.5" cy="336.2" r="1.4" fill="#1a1ebc" opacity="0.85" filter="url(#b04)"/>
<circle cx="289.6" cy="283.7" r="1.4" fill="#1a1ebc" opacity="0.85" filter="url(#b04)"/>
<circle cx="284.0" cy="295.5" r="1.6" fill="#1a1ebc" opacity="0.85" filter="url(#b04)"/>
<circle cx="292.9" cy="293.7" r="1.7" fill="#1a1ebc" opacity="0.85" filter="url(#b04)"/>
<circle cx="278.2" cy="294.4" r="2.0" fill="#1a1ebc" opacity="0.85" filter="url(#b04)"/>
<circle cx="290.7" cy="316.0" r="2.0" fill="#1a1ebc" opacity="0.85" filter="url(#b04)"/>
<circle cx="303.8" cy="293.3" r="1.3" fill="#1a1ebc" opacity="0.85" filter="url(#b04)"/>
<circle cx="281.5" cy="279.9" r="1.8" fill="#1a1ebc" opacity="0.85" filter="url(#b04)"/>
<circle cx="312.5" cy="291.2" r="1.8" fill="#1a1ebc" opacity="0.85" filter="url(#b04)"/>
<circle cx="280.5" cy="288.3" r="1.9" fill="#1a1ebc" opacity="0.85" filter="url(#b04)"/>
<circle cx="308.5" cy="283.9" r="1.7" fill="#1a1ebc" opacity="0.85" filter="url(#b04)"/>
<circle cx="282.3" cy="323.8" r="1.4" fill="#1a1ebc" opacity="0.85" filter="url(#b04)"/>
<circle cx="288.7" cy="331.8" r="1.6" fill="#1a1ebc" opacity="0.85" filter="url(#b04)"/>
<circle cx="279.8" cy="300.3" r="1.3" fill="#1a1ebc" opacity="0.85" filter="url(#b04)"/>
<circle cx="287.2" cy="331.6" r="1.3" fill="#1a1ebc" opacity="0.85" filter="url(#b04)"/>
<circle cx="291.8" cy="282.0" r="1.8" fill="#1a1ebc" opacity="0.85" filter="url(#b04)"/>
<circle cx="306.8" cy="289.2" r="1.5" fill="#1a1ebc" opacity="0.85" filter="url(#b04)"/>
<circle cx="277.7" cy="332.8" r="1.3" fill="#1a1ebc" opacity="0.85" filter="url(#b04)"/>
<circle cx="302.6" cy="288.0" r="1.8" fill="#1a1ebc" opacity="0.85" filter="url(#b04)"/>
<circle cx="316.0" cy="290.7" r="1.9" fill="#1a1ebc" opacity="0.85" filter="url(#b04)"/>
<circle cx="311.7" cy="327.0" r="1.3" fill="#1a1ebc" opacity="0.85" filter="url(#b04)"/>
<circle cx="278.0" cy="313.8" r="1.5" fill="#1a1ebc" opacity="0.85" filter="url(#b04)"/>
<circle cx="280.0" cy="311.4" r="1.3" fill="#1010a8" opacity="0.8" filter="url(#b04)"/>
<circle cx="293.1" cy="302.3" r="1.7" fill="#1010a8" opacity="0.8" filter="url(#b04)"/>
<circle cx="319.7" cy="310.4" r="1.8" fill="#1010a8" opacity="0.8" filter="url(#b04)"/>
<circle cx="298.7" cy="319.3" r="1.6" fill="#1010a8" opacity="0.8" filter="url(#b04)"/>
<circle cx="288.4" cy="315.6" r="1.4" fill="#1010a8" opacity="0.8" filter="url(#b04)"/>
<circle cx="279.3" cy="304.9" r="1.8" fill="#1010a8" opacity="0.8" filter="url(#b04)"/>
<circle cx="306.9" cy="290.7" r="1.5" fill="#1010a8" opacity="0.8" filter="url(#b04)"/>
<circle cx="305.1" cy="327.1" r="1.6" fill="#1010a8" opacity="0.8" filter="url(#b04)"/>
<circle cx="309.9" cy="310.9" r="1.7" fill="#1010a8" opacity="0.8" filter="url(#b04)"/>
<circle cx="304.8" cy="286.2" r="1.8" fill="#1010a8" opacity="0.8" filter="url(#b04)"/>
<circle cx="312.3" cy="318.3" r="1.9" fill="#1010a8" opacity="0.8" filter="url(#b04)"/>
<circle cx="287.6" cy="310.6" r="1.6" fill="#1010a8" opacity="0.8" filter="url(#b04)"/>
<circle cx="315.6" cy="310.0" r="1.9" fill="#1010a8" opacity="0.8" filter="url(#b04)"/>
<circle cx="306.2" cy="301.6" r="1.7" fill="#1010a8" opacity="0.8" filter="url(#b04)"/>
<circle cx="311.1" cy="299.1" r="1.5" fill="#1010a8" opacity="0.8" filter="url(#b04)"/>
<circle cx="306.6" cy="320.2" r="1.7" fill="#1010a8" opacity="0.8" filter="url(#b04)"/>
<circle cx="316.8" cy="303.0" r="1.4" fill="#1010a8" opacity="0.8" filter="url(#b04)"/>
<circle cx="290.2" cy="311.4" r="2.0" fill="#1010a8" opacity="0.8" filter="url(#b04)"/>
<circle cx="315.6" cy="305.3" r="1.5" fill="#1010a8" opacity="0.8" filter="url(#b04)"/>
<circle cx="290.2" cy="289.9" r="1.6" fill="#1010a8" opacity="0.8" filter="url(#b04)"/>
<circle cx="280.7" cy="301.5" r="1.6" fill="#1010a8" opacity="0.8" filter="url(#b04)"/>
<circle cx="278.4" cy="298.8" r="2.0" fill="#1010a8" opacity="0.8" filter="url(#b04)"/>
<circle cx="285.2" cy="324.8" r="1.5" fill="#1010a8" opacity="0.8" filter="url(#b04)"/>
<circle cx="300.7" cy="294.4" r="1.4" fill="#1010a8" opacity="0.8" filter="url(#b04)"/>
<circle cx="304.6" cy="300.7" r="1.9" fill="#1010a8" opacity="0.8" filter="url(#b04)"/>
<circle cx="294.1" cy="298.6" r="1.3" fill="#1010a8" opacity="0.8" filter="url(#b04)"/>
<circle cx="284.4" cy="299.5" r="1.9" fill="#1010a8" opacity="0.8" filter="url(#b04)"/>
<circle cx="290.6" cy="298.0" r="1.9" fill="#1010a8" opacity="0.8" filter="url(#b04)"/>
<circle cx="311.8" cy="311.5" r="1.9" fill="#1010a8" opacity="0.8" filter="url(#b04)"/>
<circle cx="319.6" cy="301.4" r="1.2" fill="#1010a8" opacity="0.8" filter="url(#b04)"/>
<circle cx="287.8" cy="309.6" r="1.7" fill="#1010a8" opacity="0.8" filter="url(#b04)"/>
<circle cx="309.4" cy="314.8" r="2.0" fill="#1010a8" opacity="0.8" filter="url(#b04)"/>
<circle cx="309.3" cy="318.4" r="1.7" fill="#1010a8" opacity="0.8" filter="url(#b04)"/>
<circle cx="282.9" cy="318.4" r="1.4" fill="#1010a8" opacity="0.8" filter="url(#b04)"/>
<circle cx="295.3" cy="307.2" r="1.5" fill="#1010a8" opacity="0.8" filter="url(#b04)"/>
<circle cx="288.7" cy="296.9" r="1.4" fill="#1010a8" opacity="0.8" filter="url(#b04)"/>
<circle cx="308.2" cy="315.3" r="2.0" fill="#1010a8" opacity="0.8" filter="url(#b04)"/>
<circle cx="305.8" cy="306.2" r="1.8" fill="#1010a8" opacity="0.8" filter="url(#b04)"/>
<circle cx="293.6" cy="297.6" r="1.6" fill="#1010a8" opacity="0.8" filter="url(#b04)"/>
<circle cx="283.7" cy="311.5" r="1.6" fill="#1010a8" opacity="0.8" filter="url(#b04)"/>
<circle cx="318.7" cy="305.7" r="1.2" fill="#1010a8" opacity="0.8" filter="url(#b04)"/>
<circle cx="318.2" cy="295.8" r="1.4" fill="#1010a8" opacity="0.8" filter="url(#b04)"/>
<circle cx="317.4" cy="306.9" r="2.0" fill="#1010a8" opacity="0.8" filter="url(#b04)"/>
<circle cx="284.6" cy="310.7" r="2.0" fill="#1010a8" opacity="0.8" filter="url(#b04)"/>
<circle cx="304.6" cy="294.4" r="1.8" fill="#1010a8" opacity="0.8" filter="url(#b04)"/>
<circle cx="294.9" cy="287.0" r="2.0" fill="#1010a8" opacity="0.8" filter="url(#b04)"/>
<circle cx="305.1" cy="306.2" r="2.0" fill="#1010a8" opacity="0.8" filter="url(#b04)"/>
<circle cx="292.9" cy="325.4" r="1.5" fill="#1010a8" opacity="0.8" filter="url(#b04)"/>
<circle cx="313.7" cy="306.3" r="1.2" fill="#1010a8" opacity="0.8" filter="url(#b04)"/>
<circle cx="300.4" cy="325.0" r="1.4" fill="#1010a8" opacity="0.8" filter="url(#b04)"/>
<circle cx="334.9" cy="267.3" r="1.1" fill="#2c40d0" opacity="0.8" filter="url(#b04)"/>
<circle cx="315.4" cy="280.3" r="1.5" fill="#2c40d0" opacity="0.8" filter="url(#b04)"/>
<circle cx="332.8" cy="273.6" r="1.4" fill="#2c40d0" opacity="0.8" filter="url(#b04)"/>
<circle cx="298.5" cy="284.7" r="1.2" fill="#2c40d0" opacity="0.8" filter="url(#b04)"/>
<circle cx="307.4" cy="280.3" r="1.2" fill="#2c40d0" opacity="0.8" filter="url(#b04)"/>
<circle cx="301.7" cy="282.7" r="1.2" fill="#2c40d0" opacity="0.8" filter="url(#b04)"/>
<circle cx="287.6" cy="285.4" r="1.3" fill="#2c40d0" opacity="0.8" filter="url(#b04)"/>
<circle cx="314.1" cy="274.6" r="1.0" fill="#2c40d0" opacity="0.8" filter="url(#b04)"/>
<circle cx="299.0" cy="277.2" r="1.4" fill="#2c40d0" opacity="0.8" filter="url(#b04)"/>
<circle cx="337.7" cy="274.6" r="1.0" fill="#2c40d0" opacity="0.8" filter="url(#b04)"/>
<circle cx="306.6" cy="281.1" r="1.2" fill="#2c40d0" opacity="0.8" filter="url(#b04)"/>
<circle cx="335.1" cy="283.9" r="1.0" fill="#2c40d0" opacity="0.8" filter="url(#b04)"/>
<circle cx="310.6" cy="266.2" r="1.3" fill="#2c40d0" opacity="0.8" filter="url(#b04)"/>
<circle cx="327.5" cy="272.4" r="1.3" fill="#2c40d0" opacity="0.8" filter="url(#b04)"/>
<circle cx="304.5" cy="286.6" r="1.5" fill="#2c40d0" opacity="0.8" filter="url(#b04)"/>
<circle cx="321.0" cy="283.4" r="1.5" fill="#2c40d0" opacity="0.8" filter="url(#b04)"/>
<circle cx="291.3" cy="269.7" r="1.4" fill="#2c40d0" opacity="0.8" filter="url(#b04)"/>
<circle cx="330.5" cy="268.5" r="1.2" fill="#2c40d0" opacity="0.8" filter="url(#b04)"/>
<circle cx="337.2" cy="282.6" r="1.5" fill="#2c40d0" opacity="0.8" filter="url(#b04)"/>
<circle cx="307.2" cy="276.5" r="1.1" fill="#2c40d0" opacity="0.8" filter="url(#b04)"/>
<circle cx="338.8" cy="281.0" r="1.0" fill="#2c40d0" opacity="0.8" filter="url(#b04)"/>
<circle cx="330.0" cy="274.7" r="1.5" fill="#2c40d0" opacity="0.8" filter="url(#b04)"/>
<circle cx="299.6" cy="270.5" r="1.4" fill="#2c40d0" opacity="0.8" filter="url(#b04)"/>
<circle cx="280.2" cy="278.1" r="1.1" fill="#2c40d0" opacity="0.8" filter="url(#b04)"/>
<circle cx="309.4" cy="270.5" r="1.4" fill="#2c40d0" opacity="0.8" filter="url(#b04)"/>
<circle cx="333.4" cy="280.3" r="1.5" fill="#2c40d0" opacity="0.8" filter="url(#b04)"/>
<circle cx="333.4" cy="304.4" r="1.5" fill="#2434cc" opacity="0.85" filter="url(#b04)"/>
<circle cx="336.2" cy="302.5" r="1.1" fill="#2434cc" opacity="0.85" filter="url(#b04)"/>
<circle cx="354.2" cy="307.6" r="1.1" fill="#2434cc" opacity="0.85" filter="url(#b04)"/>
<circle cx="346.8" cy="317.5" r="1.2" fill="#2434cc" opacity="0.85" filter="url(#b04)"/>
<circle cx="350.1" cy="312.1" r="1.3" fill="#2434cc" opacity="0.85" filter="url(#b04)"/>
<circle cx="345.8" cy="318.1" r="1.1" fill="#2434cc" opacity="0.85" filter="url(#b04)"/>
<circle cx="339.4" cy="311.4" r="1.5" fill="#2434cc" opacity="0.85" filter="url(#b04)"/>
<circle cx="343.4" cy="302.4" r="1.6" fill="#2434cc" opacity="0.85" filter="url(#b04)"/>
<circle cx="335.7" cy="309.2" r="1.4" fill="#2434cc" opacity="0.85" filter="url(#b04)"/>
<circle cx="341.6" cy="310.1" r="1.6" fill="#2434cc" opacity="0.85" filter="url(#b04)"/>
<circle cx="345.3" cy="311.9" r="0.9" fill="#2434cc" opacity="0.85" filter="url(#b04)"/>
<circle cx="344.0" cy="309.4" r="1.2" fill="#2434cc" opacity="0.85" filter="url(#b04)"/>
<circle cx="337.6" cy="318.7" r="1.6" fill="#2434cc" opacity="0.85" filter="url(#b04)"/>
<circle cx="343.8" cy="304.6" r="1.3" fill="#2434cc" opacity="0.85" filter="url(#b04)"/>
<circle cx="351.3" cy="305.6" r="1.6" fill="#2434cc" opacity="0.85" filter="url(#b04)"/>
<circle cx="345.0" cy="314.3" r="1.1" fill="#2434cc" opacity="0.85" filter="url(#b04)"/>
<circle cx="347.5" cy="281.0" r="1.4" fill="#3a56d4" opacity="0.7" filter="url(#b04)"/>
<circle cx="347.7" cy="274.1" r="0.9" fill="#3a56d4" opacity="0.7" filter="url(#b04)"/>
<circle cx="351.5" cy="288.0" r="1.3" fill="#3a56d4" opacity="0.7" filter="url(#b04)"/>
<circle cx="354.9" cy="287.8" r="1.0" fill="#3a56d4" opacity="0.7" filter="url(#b04)"/>
<circle cx="358.0" cy="285.8" r="1.1" fill="#3a56d4" opacity="0.7" filter="url(#b04)"/>
<circle cx="367.1" cy="293.1" r="1.2" fill="#3a56d4" opacity="0.7" filter="url(#b04)"/>
<circle cx="345.3" cy="286.8" r="0.9" fill="#3a56d4" opacity="0.7" filter="url(#b04)"/>
<circle cx="344.6" cy="290.2" r="0.8" fill="#3a56d4" opacity="0.7" filter="url(#b04)"/>
<circle cx="361.8" cy="291.0" r="1.2" fill="#3a56d4" opacity="0.7" filter="url(#b04)"/>
<circle cx="361.2" cy="292.1" r="1.0" fill="#3a56d4" opacity="0.7" filter="url(#b04)"/>
<circle cx="360.7" cy="286.7" r="0.8" fill="#3a56d4" opacity="0.7" filter="url(#b04)"/>
<circle cx="349.9" cy="282.0" r="1.3" fill="#3a56d4" opacity="0.7" filter="url(#b04)"/>
<ellipse cx="307.5" cy="310.5" rx="6.5" ry="6.5" fill="#8a60d0" opacity="1" transform="rotate(0 307.5 310.5)" filter="url(#b05)"/>
<ellipse cx="307.5" cy="310.5" rx="6.0" ry="6.0" fill="none" stroke="#6a48c8" stroke-width="1.3" opacity="0.75" transform="rotate(0 307.5 310.5)" filter="url(#b05)"/>
<circle cx="305.6" cy="308.1" r="1.4" fill="#b888d8" opacity="0.75" filter="url(#b06)"/>
<circle cx="304.9" cy="309.5" r="1.4" fill="#b888d8" opacity="0.75" filter="url(#b06)"/>
<circle cx="306.6" cy="312.5" r="1.1" fill="#b888d8" opacity="0.75" filter="url(#b06)"/>
<circle cx="307.3" cy="307.5" r="1.3" fill="#b888d8" opacity="0.75" filter="url(#b06)"/>
<circle cx="311.4" cy="311.2" r="1.4" fill="#2820b8" opacity="0.85" filter="url(#b06)"/>
<circle cx="305.1" cy="314.1" r="1.1" fill="#2820b8" opacity="0.85" filter="url(#b06)"/>
<circle cx="309.9" cy="308.3" r="0.9" fill="#2820b8" opacity="0.85" filter="url(#b06)"/>
<circle cx="306.1" cy="312.8" r="1.5" fill="#2820b8" opacity="0.85" filter="url(#b06)"/>
<circle cx="311.8" cy="309.9" r="1.2" fill="#2820b8" opacity="0.85" filter="url(#b06)"/>
<circle cx="307.5" cy="313.4" r="1.1" fill="#2820b8" opacity="0.85" filter="url(#b06)"/>
<circle cx="305.0" cy="306.7" r="1.0" fill="#2820b8" opacity="0.85" filter="url(#b06)"/>
<circle cx="306.8" cy="314.7" r="1.2" fill="#2820b8" opacity="0.85" filter="url(#b06)"/>
<circle cx="308.1" cy="306.6" r="1.0" fill="#2820b8" opacity="0.85" filter="url(#b06)"/>
<circle cx="310.0" cy="308.6" r="1.0" fill="#2820b8" opacity="0.85" filter="url(#b06)"/>
<circle cx="313.7" cy="315.7" r="1.3" fill="#1a1ebc" opacity="0.7" filter="url(#b04)"/>
<circle cx="316.5" cy="312.1" r="1.6" fill="#1a1ebc" opacity="0.7" filter="url(#b04)"/>
<circle cx="315.0" cy="315.0" r="1.1" fill="#1a1ebc" opacity="0.7" filter="url(#b04)"/>
<circle cx="297.6" cy="305.6" r="1.5" fill="#1a1ebc" opacity="0.7" filter="url(#b04)"/>
<circle cx="304.1" cy="315.9" r="1.3" fill="#1a1ebc" opacity="0.7" filter="url(#b04)"/>
<circle cx="308.8" cy="299.8" r="1.0" fill="#1a1ebc" opacity="0.7" filter="url(#b04)"/>
<circle cx="308.8" cy="315.0" r="1.5" fill="#1a1ebc" opacity="0.7" filter="url(#b04)"/>
<circle cx="315.9" cy="316.4" r="1.6" fill="#1a1ebc" opacity="0.7" filter="url(#b04)"/>
<ellipse cx="285.6" cy="302.5" rx="7.6" ry="10.3" fill="#a0b8ec" opacity="0.55" transform="rotate(5 285.6 302.5)" filter="url(#b1)"/>
<ellipse cx="285.6" cy="302.5" rx="5.8" ry="8.5" fill="#1c14d0" opacity="1" transform="rotate(5 285.6 302.5)" filter="url(#b05)"/>
<ellipse cx="285.6" cy="302.5" rx="5.3" ry="8.0" fill="none" stroke="#1410c0" stroke-width="1.3" opacity="0.75" transform="rotate(5 285.6 302.5)" filter="url(#b05)"/>
<circle cx="283.3" cy="303.6" r="1.6" fill="#3828d0" opacity="0.75" filter="url(#b06)"/>
<circle cx="284.5" cy="297.0" r="1.4" fill="#2a1aa8" opacity="0.85" filter="url(#b06)"/>
<circle cx="282.6" cy="300.0" r="1.5" fill="#2a1aa8" opacity="0.85" filter="url(#b06)"/>
<ellipse cx="297.5" cy="267.0" rx="8.3" ry="7.3" fill="#a0b8ec" opacity="0.55" transform="rotate(0 297.5 267.0)" filter="url(#b1)"/>
<ellipse cx="297.5" cy="267.0" rx="6.5" ry="5.5" fill="#5a40d4" opacity="1" transform="rotate(0 297.5 267.0)" filter="url(#b05)"/>
<ellipse cx="297.5" cy="267.0" rx="6.0" ry="5.0" fill="none" stroke="#4430c8" stroke-width="1.3" opacity="0.75" transform="rotate(0 297.5 267.0)" filter="url(#b05)"/>
<circle cx="298.9" cy="269.1" r="1.6" fill="#9a78d8" opacity="0.75" filter="url(#b06)"/>
<circle cx="300.5" cy="266.8" r="1.3" fill="#9a78d8" opacity="0.75" filter="url(#b06)"/>
<circle cx="300.2" cy="264.9" r="0.9" fill="#2a1aa8" opacity="0.85" filter="url(#b06)"/>
<circle cx="294.6" cy="267.0" r="1.4" fill="#2a1aa8" opacity="0.85" filter="url(#b06)"/>
<circle cx="298.9" cy="263.4" r="0.9" fill="#2a1aa8" opacity="0.85" filter="url(#b06)"/>
<circle cx="293.8" cy="265.6" r="1.0" fill="#2a1aa8" opacity="0.85" filter="url(#b06)"/>
<circle cx="297.2" cy="263.8" r="1.0" fill="#2a1aa8" opacity="0.85" filter="url(#b06)"/>
<ellipse cx="327.8" cy="268.5" rx="7.3" ry="7.8" fill="#a0b8ec" opacity="0.55" transform="rotate(0 327.8 268.5)" filter="url(#b1)"/>
<ellipse cx="327.8" cy="268.5" rx="5.5" ry="6.0" fill="#5a40d4" opacity="1" transform="rotate(0 327.8 268.5)" filter="url(#b05)"/>
<ellipse cx="327.8" cy="268.5" rx="5.0" ry="5.5" fill="none" stroke="#4430c8" stroke-width="1.3" opacity="0.75" transform="rotate(0 327.8 268.5)" filter="url(#b05)"/>
<circle cx="328.9" cy="267.7" r="1.0" fill="#9a78d8" opacity="0.75" filter="url(#b06)"/>
<circle cx="325.9" cy="268.9" r="1.7" fill="#9a78d8" opacity="0.75" filter="url(#b06)"/>
<circle cx="331.2" cy="267.5" r="0.9" fill="#2a1aa8" opacity="0.85" filter="url(#b06)"/>
<circle cx="325.0" cy="267.4" r="1.2" fill="#2a1aa8" opacity="0.85" filter="url(#b06)"/>
<circle cx="330.4" cy="269.3" r="1.2" fill="#2a1aa8" opacity="0.85" filter="url(#b06)"/>
<circle cx="331.1" cy="267.5" r="1.5" fill="#2a1aa8" opacity="0.85" filter="url(#b06)"/>
<circle cx="329.0" cy="269.4" r="1.2" fill="#2a1aa8" opacity="0.85" filter="url(#b06)"/>
<ellipse cx="374.5" cy="254.8" rx="7.3" ry="5.8" fill="#a0b8ec" opacity="0.55" transform="rotate(0 374.5 254.8)" filter="url(#b1)"/>
<ellipse cx="374.5" cy="254.8" rx="5.5" ry="4.0" fill="#4a30d0" opacity="1" transform="rotate(0 374.5 254.8)" filter="url(#b05)"/>
<ellipse cx="374.5" cy="254.8" rx="5.0" ry="3.5" fill="none" stroke="#3a24c8" stroke-width="1.3" opacity="0.75" transform="rotate(0 374.5 254.8)" filter="url(#b05)"/>
<circle cx="373.2" cy="254.0" r="1.4" fill="#8060d8" opacity="0.75" filter="url(#b06)"/>
<circle cx="376.9" cy="254.3" r="1.5" fill="#2a1aa8" opacity="0.85" filter="url(#b06)"/>
<circle cx="375.1" cy="255.0" r="1.3" fill="#2a1aa8" opacity="0.85" filter="url(#b06)"/>
<ellipse cx="371.9" cy="297.6" rx="7.0" ry="7.6" fill="#a0b8ec" opacity="0.55" transform="rotate(0 371.9 297.6)" filter="url(#b1)"/>
<ellipse cx="371.9" cy="297.6" rx="5.2" ry="5.8" fill="#4a30d0" opacity="1" transform="rotate(0 371.9 297.6)" filter="url(#b05)"/>
<ellipse cx="371.9" cy="297.6" rx="4.7" ry="5.3" fill="none" stroke="#3a24c8" stroke-width="1.3" opacity="0.75" transform="rotate(0 371.9 297.6)" filter="url(#b05)"/>
<circle cx="373.7" cy="298.8" r="1.4" fill="#8060d8" opacity="0.75" filter="url(#b06)"/>
<circle cx="372.4" cy="295.3" r="1.5" fill="#8060d8" opacity="0.75" filter="url(#b06)"/>
<circle cx="370.3" cy="294.8" r="1.2" fill="#2a1aa8" opacity="0.85" filter="url(#b06)"/>
<circle cx="370.6" cy="294.9" r="1.0" fill="#2a1aa8" opacity="0.85" filter="url(#b06)"/>
<circle cx="372.9" cy="300.3" r="1.5" fill="#2a1aa8" opacity="0.85" filter="url(#b06)"/>
<ellipse cx="345.9" cy="332.3" rx="6.6" ry="8.6" fill="#a0b8ec" opacity="0.55" transform="rotate(15 345.9 332.3)" filter="url(#b1)"/>
<ellipse cx="345.9" cy="332.3" rx="4.8" ry="6.8" fill="#2418d8" opacity="1" transform="rotate(15 345.9 332.3)" filter="url(#b05)"/>
<ellipse cx="345.9" cy="332.3" rx="4.3" ry="6.3" fill="none" stroke="#1810c8" stroke-width="1.3" opacity="0.75" transform="rotate(15 345.9 332.3)" filter="url(#b05)"/>
<circle cx="345.7" cy="335.4" r="1.5" fill="#5040d8" opacity="0.75" filter="url(#b06)"/>
<circle cx="345.4" cy="327.7" r="1.3" fill="#2a1aa8" opacity="0.85" filter="url(#b06)"/>
<circle cx="347.5" cy="334.6" r="1.4" fill="#2a1aa8" opacity="0.85" filter="url(#b06)"/>
</g>
<rect x="275.5" y="252.8" width="102.80000000000001" height="94.5" fill="none" stroke="#111" stroke-width="1.35"/>
<text transform="translate(174.50 167.60) scale(0.951 1)" font-size="10.14" stroke="#000" stroke-width="0.5"><tspan font-size="10.14" dy="0.00">WT</tspan></text>
<text transform="translate(278.30 168.60) scale(0.997 1)" font-size="10.29" stroke="#000" stroke-width="0.5"><tspan font-size="10.29" dy="0.00">TRIF-/-</tspan></text>
<text transform="translate(171.73 265.00) scale(1.053 1)" font-size="9.86" stroke="#000" stroke-width="0.5"><tspan font-size="9.86" dy="0.00">MyD88-/-</tspan></text>
<text transform="translate(277.83 264.90) scale(1.053 1)" font-size="9.86" stroke="#000" stroke-width="0.5"><tspan font-size="9.86" dy="0.00">MyD88-/-TRIF-/-</tspan></text>
<text transform="translate(-0.37 9.50) scale(1.040 1)" font-size="14.06" stroke="#000" stroke-width="0.5"><tspan font-size="14.06" dy="0.00">A</tspan></text>
<text transform="translate(154.15 9.40) scale(1.131 1)" font-size="11.59" stroke="#000" stroke-width="0.5"><tspan font-size="11.59" dy="0.00">B</tspan></text>
<text transform="translate(0.71 162.30) scale(0.940 1)" font-size="13.00" stroke="#000" stroke-width="0.5"><tspan font-size="13.00" dy="0.00">C</tspan></text>
<text transform="translate(158.22 162.40) scale(0.933 1)" font-size="12.90" stroke="#000" stroke-width="0.5"><tspan font-size="12.90" dy="0.00">D</tspan></text>
<text transform="translate(388.36 162.50) scale(1.158 1)" font-size="11.16" stroke="#000" stroke-width="0.5"><tspan font-size="11.16" dy="0.00">E</tspan></text>
<path d="M57.0 106.3 L84.9 52.6 L139.2 46.3" fill="none" stroke="#000" stroke-width="2.8" stroke-linejoin="round"/>
<path d="M57.0 108.4 L84.9 60.4 L139.2 71.1" fill="none" stroke="#000" stroke-width="2.8" stroke-linejoin="round"/>
<path d="M57.0 107.6 L84.9 82.6 L139.2 103.9" fill="none" stroke="#000" stroke-width="2.8" stroke-linejoin="round"/>
<path d="M57.0 106.3 L84.9 88.8 L139.2 95.6" fill="none" stroke="#000" stroke-width="2.8" stroke-linejoin="round"/>
<line x1="84.90" y1="44.76" x2="84.90" y2="60.40" stroke="#000" stroke-width="1.4"/>
<line x1="82.60" y1="44.76" x2="87.20" y2="44.76" stroke="#000" stroke-width="1.4"/>
<line x1="82.60" y1="60.40" x2="87.20" y2="60.40" stroke="#000" stroke-width="1.4"/>
<line x1="139.20" y1="34.59" x2="139.20" y2="58.06" stroke="#000" stroke-width="1.4"/>
<line x1="136.90" y1="34.59" x2="141.50" y2="34.59" stroke="#000" stroke-width="1.4"/>
<line x1="136.90" y1="58.06" x2="141.50" y2="58.06" stroke="#000" stroke-width="1.4"/>
<line x1="84.90" y1="48.41" x2="84.90" y2="72.39" stroke="#000" stroke-width="1.4"/>
<line x1="82.60" y1="48.41" x2="87.20" y2="48.41" stroke="#000" stroke-width="1.4"/>
<line x1="82.60" y1="72.39" x2="87.20" y2="72.39" stroke="#000" stroke-width="1.4"/>
<line x1="139.20" y1="63.27" x2="139.20" y2="78.91" stroke="#000" stroke-width="1.4"/>
<line x1="136.90" y1="63.27" x2="141.50" y2="63.27" stroke="#000" stroke-width="1.4"/>
<line x1="136.90" y1="78.91" x2="141.50" y2="78.91" stroke="#000" stroke-width="1.4"/>
<line x1="84.90" y1="72.66" x2="84.90" y2="92.47" stroke="#000" stroke-width="1.4"/>
<line x1="82.60" y1="72.66" x2="87.20" y2="72.66" stroke="#000" stroke-width="1.4"/>
<line x1="82.60" y1="92.47" x2="87.20" y2="92.47" stroke="#000" stroke-width="1.4"/>
<line x1="139.20" y1="102.64" x2="139.20" y2="105.24" stroke="#000" stroke-width="1.4"/>
<line x1="136.90" y1="102.64" x2="141.50" y2="102.64" stroke="#000" stroke-width="1.4"/>
<line x1="136.90" y1="105.24" x2="141.50" y2="105.24" stroke="#000" stroke-width="1.4"/>
<line x1="84.90" y1="81.52" x2="84.90" y2="96.12" stroke="#000" stroke-width="1.4"/>
<line x1="82.60" y1="81.52" x2="87.20" y2="81.52" stroke="#000" stroke-width="1.4"/>
<line x1="82.60" y1="96.12" x2="87.20" y2="96.12" stroke="#000" stroke-width="1.4"/>
<line x1="139.20" y1="90.38" x2="139.20" y2="100.81" stroke="#000" stroke-width="1.4"/>
<line x1="136.90" y1="90.38" x2="141.50" y2="90.38" stroke="#000" stroke-width="1.4"/>
<line x1="136.90" y1="100.81" x2="141.50" y2="100.81" stroke="#000" stroke-width="1.4"/>
<path d="M57.00 102.19L61.10 106.29L57.00 110.39L52.90 106.29Z" fill="#000"/>
<path d="M84.90 84.72L89.00 88.82L84.90 92.92L80.80 88.82Z" fill="#000"/>
<path d="M139.20 91.50L143.30 95.60L139.20 99.70L135.10 95.60Z" fill="#000"/>
<path d="M57.00 103.29L61.30 110.81L52.70 110.81Z" fill="#fff" stroke="#000" stroke-width="1.4" stroke-linejoin="miter"/>
<path d="M84.90 78.26L89.20 85.79L80.60 85.79Z" fill="#fff" stroke="#000" stroke-width="1.4" stroke-linejoin="miter"/>
<path d="M139.20 99.64L143.50 107.16L134.90 107.16Z" fill="#fff" stroke="#000" stroke-width="1.4" stroke-linejoin="miter"/>
<rect x="53.60" y="104.97" width="6.80" height="6.80" fill="#fff" stroke="#000" stroke-width="1.4"/>
<rect x="81.50" y="57.00" width="6.80" height="6.80" fill="#fff" stroke="#000" stroke-width="1.4"/>
<rect x="135.80" y="67.69" width="6.80" height="6.80" fill="#fff" stroke="#000" stroke-width="1.4"/>
<circle cx="57.00" cy="106.29" r="3.9" fill="#000"/>
<circle cx="84.90" cy="52.58" r="3.9" fill="#000"/>
<circle cx="139.20" cy="46.32" r="3.9" fill="#000"/>
<rect x="43.65" y="19.50" width="108.85" height="92.00" fill="none" stroke="#000" stroke-width="1.6"/>
<line x1="43.65" y1="111.50" x2="45.65" y2="111.50" stroke="#000" stroke-width="1"/>
<line x1="43.65" y1="85.43" x2="45.65" y2="85.43" stroke="#000" stroke-width="1"/>
<line x1="43.65" y1="59.36" x2="45.65" y2="59.36" stroke="#000" stroke-width="1"/>
<line x1="43.65" y1="33.29" x2="45.65" y2="33.29" stroke="#000" stroke-width="1"/>
<line x1="43.65" y1="98.47" x2="45.15" y2="98.47" stroke="#000" stroke-width="1"/>
<line x1="43.65" y1="72.39" x2="45.15" y2="72.39" stroke="#000" stroke-width="1"/>
<line x1="43.65" y1="46.32" x2="45.15" y2="46.32" stroke="#000" stroke-width="1"/>
<line x1="43.65" y1="20.25" x2="45.15" y2="20.25" stroke="#000" stroke-width="1"/>
<text transform="translate(36.35 114.40) scale(1.064 1)" font-size="8.12" stroke="#000" stroke-width="0.5"><tspan font-size="8.12" dy="0.00">0</tspan></text>
<text transform="translate(31.11 87.70) scale(1.116 1)" font-size="8.12" stroke="#000" stroke-width="0.5"><tspan font-size="8.12" dy="0.00">10</tspan></text>
<text transform="translate(31.39 61.50) scale(1.083 1)" font-size="8.12" stroke="#000" stroke-width="0.5"><tspan font-size="8.12" dy="0.00">20</tspan></text>
<text transform="translate(31.48 34.70) scale(1.073 1)" font-size="8.12" stroke="#000" stroke-width="0.5"><tspan font-size="8.12" dy="0.00">30</tspan></text>
<line x1="57.00" y1="111.50" x2="57.00" y2="109.70" stroke="#000" stroke-width="1"/>
<line x1="84.90" y1="111.50" x2="84.90" y2="109.70" stroke="#000" stroke-width="1"/>
<line x1="139.20" y1="111.50" x2="139.20" y2="109.70" stroke="#000" stroke-width="1"/>
<text transform="translate(54.16 123.40) scale(1.093 1)" font-size="8.55" stroke="#000" stroke-width="0.5"><tspan font-size="8.55" dy="0.00">4</tspan></text>
<text transform="translate(81.52 123.40) scale(1.076 1)" font-size="8.55" stroke="#000" stroke-width="0.5"><tspan font-size="8.55" dy="0.00">5</tspan></text>
<text transform="translate(136.16 123.40) scale(0.880 1)" font-size="8.55" stroke="#000" stroke-width="0.5"><tspan font-size="8.55" dy="0.00">7</tspan></text>
<text transform="translate(53.03 131.70) scale(1.099 1)" font-size="7.97" stroke="#000" stroke-width="0.5"><tspan font-size="7.97" dy="0.00">Days after infection</tspan></text>
<text transform="translate(83.75 17.30) scale(0.993 1)" font-size="10.14" stroke="#000" stroke-width="0.5"><tspan font-size="10.14" dy="0.00">DC</tspan></text>
<text transform="translate(25.70 127.29) rotate(-90) scale(0.953 1)" font-size="9.28" stroke="#000" stroke-width="0.5"><tspan font-size="9.28" dy="0.00">Trypomastigotes (x 10</tspan><tspan font-size="6.03" dy="-3.52">5</tspan><tspan font-size="9.28" dy="3.52">/ml)</tspan></text>
<path d="M209.5 100.0 L237.2 72.3 L292.8 39.0" fill="none" stroke="#000" stroke-width="2.6" stroke-linejoin="round"/>
<path d="M209.5 101.2 L237.2 70.1 L292.8 91.5" fill="none" stroke="#000" stroke-width="2.6" stroke-linejoin="round"/>
<path d="M209.5 104.1 L237.2 86.0 L292.8 98.6" fill="none" stroke="#000" stroke-width="2.6" stroke-linejoin="round"/>
<path d="M209.5 101.9 L237.2 96.0 L292.8 104.5" fill="none" stroke="#000" stroke-width="2.6" stroke-linejoin="round"/>
<line x1="292.80" y1="29.75" x2="292.80" y2="48.25" stroke="#000" stroke-width="1.4"/>
<line x1="290.50" y1="29.75" x2="295.10" y2="29.75" stroke="#000" stroke-width="1.4"/>
<line x1="290.50" y1="48.25" x2="295.10" y2="48.25" stroke="#000" stroke-width="1.4"/>
<line x1="237.20" y1="70.08" x2="237.20" y2="78.59" stroke="#000" stroke-width="1.4"/>
<line x1="234.90" y1="70.08" x2="239.50" y2="70.08" stroke="#000" stroke-width="1.4"/>
<line x1="234.90" y1="78.59" x2="239.50" y2="78.59" stroke="#000" stroke-width="1.4"/>
<line x1="292.80" y1="89.32" x2="292.80" y2="93.76" stroke="#000" stroke-width="1.4"/>
<line x1="290.50" y1="89.32" x2="295.10" y2="89.32" stroke="#000" stroke-width="1.4"/>
<line x1="290.50" y1="93.76" x2="295.10" y2="93.76" stroke="#000" stroke-width="1.4"/>
<line x1="237.20" y1="94.13" x2="237.20" y2="97.83" stroke="#000" stroke-width="1.4"/>
<line x1="234.90" y1="94.13" x2="239.50" y2="94.13" stroke="#000" stroke-width="1.4"/>
<line x1="234.90" y1="97.83" x2="239.50" y2="97.83" stroke="#000" stroke-width="1.4"/>
<path d="M209.50 98.29L213.11 101.90L209.50 105.51L205.89 101.90Z" fill="#000"/>
<path d="M237.20 92.37L240.81 95.98L237.20 99.59L233.59 95.98Z" fill="#000"/>
<path d="M292.80 100.88L296.41 104.49L292.80 108.10L289.19 104.49Z" fill="#000"/>
<path d="M209.50 100.34L213.28 106.96L205.72 106.96Z" fill="#fff" stroke="#000" stroke-width="1.4" stroke-linejoin="miter"/>
<path d="M237.20 82.21L240.98 88.83L233.42 88.83Z" fill="#fff" stroke="#000" stroke-width="1.4" stroke-linejoin="miter"/>
<path d="M292.80 94.79L296.58 101.41L289.02 101.41Z" fill="#fff" stroke="#000" stroke-width="1.4" stroke-linejoin="miter"/>
<rect x="206.51" y="98.17" width="5.98" height="5.98" fill="#fff" stroke="#000" stroke-width="1.4"/>
<rect x="234.21" y="67.09" width="5.98" height="5.98" fill="#fff" stroke="#000" stroke-width="1.4"/>
<rect x="289.81" y="88.55" width="5.98" height="5.98" fill="#fff" stroke="#000" stroke-width="1.4"/>
<circle cx="209.50" cy="100.05" r="3.432" fill="#000"/>
<circle cx="237.20" cy="72.30" r="3.432" fill="#000"/>
<circle cx="292.80" cy="39.00" r="3.432" fill="#000"/>
<rect x="195.90" y="20.10" width="112.00" height="92.90" fill="none" stroke="#000" stroke-width="1.6"/>
<line x1="195.90" y1="113.00" x2="197.90" y2="113.00" stroke="#000" stroke-width="1"/>
<line x1="195.90" y1="94.50" x2="197.90" y2="94.50" stroke="#000" stroke-width="1"/>
<line x1="195.90" y1="76.00" x2="197.90" y2="76.00" stroke="#000" stroke-width="1"/>
<line x1="195.90" y1="57.50" x2="197.90" y2="57.50" stroke="#000" stroke-width="1"/>
<line x1="195.90" y1="39.00" x2="197.90" y2="39.00" stroke="#000" stroke-width="1"/>
<line x1="195.90" y1="20.50" x2="197.90" y2="20.50" stroke="#000" stroke-width="1"/>
<text transform="translate(187.48 116.50) scale(0.920 1)" font-size="8.70" stroke="#000" stroke-width="0.5"><tspan font-size="8.70" dy="0.00">0</tspan></text>
<text transform="translate(187.57 98.00) scale(0.874 1)" font-size="8.70" stroke="#000" stroke-width="0.5"><tspan font-size="8.70" dy="0.00">5</tspan></text>
<text transform="translate(182.02 79.50) scale(1.030 1)" font-size="8.70" stroke="#000" stroke-width="0.5"><tspan font-size="8.70" dy="0.00">10</tspan></text>
<text transform="translate(182.03 61.00) scale(1.015 1)" font-size="8.70" stroke="#000" stroke-width="0.5"><tspan font-size="8.70" dy="0.00">15</tspan></text>
<text transform="translate(182.30 42.50) scale(1.000 1)" font-size="8.70" stroke="#000" stroke-width="0.5"><tspan font-size="8.70" dy="0.00">20</tspan></text>
<text transform="translate(182.30 24.00) scale(0.986 1)" font-size="8.70" stroke="#000" stroke-width="0.5"><tspan font-size="8.70" dy="0.00">25</tspan></text>
<line x1="209.50" y1="113.00" x2="209.50" y2="111.20" stroke="#000" stroke-width="1"/>
<line x1="237.20" y1="113.00" x2="237.20" y2="111.20" stroke="#000" stroke-width="1"/>
<line x1="292.80" y1="113.00" x2="292.80" y2="111.20" stroke="#000" stroke-width="1"/>
<text transform="translate(206.77 124.80) scale(1.102 1)" font-size="7.97" stroke="#000" stroke-width="0.5"><tspan font-size="7.97" dy="0.00">4</tspan></text>
<text transform="translate(234.94 124.80) scale(1.104 1)" font-size="7.97" stroke="#000" stroke-width="0.5"><tspan font-size="7.97" dy="0.00">5</tspan></text>
<text transform="translate(290.25 124.80) scale(0.971 1)" font-size="7.97" stroke="#000" stroke-width="0.5"><tspan font-size="7.97" dy="0.00">7</tspan></text>
<text transform="translate(207.43 136.20) scale(1.045 1)" font-size="8.41" stroke="#000" stroke-width="0.5"><tspan font-size="8.41" dy="0.00">Days after infection</tspan></text>
<text transform="translate(242.63 17.60) scale(0.855 1)" font-size="10.29" stroke="#000" stroke-width="0.5"><tspan font-size="10.29" dy="0.00">M</tspan><tspan font-size="10.29" dy="0.00">ϕ</tspan></text>
<text transform="translate(178.30 124.79) rotate(-90) scale(1.019 1)" font-size="8.70" stroke="#000" stroke-width="0.5"><tspan font-size="8.70" dy="0.00">Trypomastigotes (x 10</tspan><tspan font-size="5.65" dy="-3.30">5</tspan><tspan font-size="8.70" dy="3.30">/ml)</tspan></text>
<rect x="311.60" y="54.70" width="106.60" height="57.60" fill="none" stroke="#505050" stroke-width="1.3"/>
<line x1="314.30" y1="61.20" x2="332.60" y2="61.20" stroke="#000" stroke-width="3.0"/>
<path d="M323.60 57.31L327.50 61.20L323.60 65.09L319.71 61.20Z" fill="#000"/>
<text transform="translate(336.60 66.70) scale(1.010 1)" font-size="10.00" stroke="#000" stroke-width="0.5"><tspan font-size="10.00" dy="0.00">WT</tspan></text>
<line x1="314.30" y1="77.00" x2="332.60" y2="77.00" stroke="#000" stroke-width="3.0"/>
<path d="M323.60 73.78L326.83 79.42L320.38 79.42Z" fill="#fff" stroke="#000" stroke-width="1.4" stroke-linejoin="miter"/>
<text transform="translate(336.50 82.10) scale(1.010 1)" font-size="10.00" stroke="#000" stroke-width="0.5"><tspan font-size="10.00" dy="0.00">TRIF-/-</tspan></text>
<line x1="314.30" y1="90.80" x2="332.60" y2="90.80" stroke="#000" stroke-width="3.0"/>
<rect x="320.37" y="87.57" width="6.46" height="6.46" fill="#fff" stroke="#000" stroke-width="1.4"/>
<text transform="translate(335.90 95.20) scale(1.073 1)" font-size="10.00" stroke="#000" stroke-width="0.5"><tspan font-size="10.00" dy="0.00">MyD88-/-</tspan></text>
<line x1="314.30" y1="104.60" x2="332.60" y2="104.60" stroke="#000" stroke-width="3.0"/>
<circle cx="323.60" cy="104.60" r="3.7049999999999996" fill="#000"/>
<text transform="translate(335.93 109.00) scale(1.033 1)" font-size="10.00" stroke="#000" stroke-width="0.5"><tspan font-size="10.00" dy="0.00">MyD88-/-TRIF-/-</tspan></text>
<line x1="70.30" y1="243.50" x2="70.30" y2="252.70" stroke="#000" stroke-width="1.3"/>
<line x1="68.30" y1="243.50" x2="72.30" y2="243.50" stroke="#000" stroke-width="1.8"/>
<line x1="92.85" y1="241.40" x2="92.85" y2="248.70" stroke="#000" stroke-width="1.3"/>
<line x1="90.85" y1="241.40" x2="94.85" y2="241.40" stroke="#000" stroke-width="1.8"/>
<line x1="115.60" y1="226.00" x2="115.60" y2="232.10" stroke="#000" stroke-width="1.3"/>
<line x1="113.60" y1="226.00" x2="117.60" y2="226.00" stroke="#000" stroke-width="1.8"/>
<line x1="137.80" y1="186.00" x2="137.80" y2="195.30" stroke="#000" stroke-width="1.3"/>
<line x1="135.80" y1="186.00" x2="139.80" y2="186.00" stroke="#000" stroke-width="1.8"/>
<rect x="64.30" y="252.70" width="12.00" height="50.50" fill="#fff" stroke="#000" stroke-width="1.6"/>
<rect x="86.85" y="248.70" width="12.00" height="54.50" fill="#000" stroke="#000" stroke-width="1.6"/>
<rect x="109.60" y="232.10" width="12.00" height="71.10" fill="url(#hatch)" stroke="#000" stroke-width="1.6"/>
<rect x="131.80" y="195.30" width="12.00" height="107.90" fill="url(#dotsC)" filter="url(#b04)"/>
<rect x="131.80" y="195.30" width="12.00" height="107.90" fill="none" stroke="#000" stroke-width="1.6"/>
<rect x="59.30" y="156.20" width="89.60" height="147.00" fill="none" stroke="#000" stroke-width="1.6"/>
<line x1="59.30" y1="303.20" x2="61.10" y2="303.20" stroke="#000" stroke-width="1"/>
<text transform="translate(48.67 306.20) scale(0.944 1)" font-size="8.70" stroke="#000" stroke-width="0.5"><tspan font-size="8.70" dy="0.00">0</tspan></text>
<line x1="59.30" y1="278.34" x2="61.10" y2="278.34" stroke="#000" stroke-width="1"/>
<text transform="translate(38.84 281.34) scale(0.995 1)" font-size="8.70" stroke="#000" stroke-width="0.5"><tspan font-size="8.70" dy="0.00">500</tspan></text>
<line x1="59.30" y1="253.48" x2="61.10" y2="253.48" stroke="#000" stroke-width="1"/>
<text transform="translate(34.04 256.48) scale(0.993 1)" font-size="8.70" stroke="#000" stroke-width="0.5"><tspan font-size="8.70" dy="0.00">1000</tspan></text>
<line x1="59.30" y1="228.62" x2="61.10" y2="228.62" stroke="#000" stroke-width="1"/>
<text transform="translate(34.04 231.62) scale(0.993 1)" font-size="8.70" stroke="#000" stroke-width="0.5"><tspan font-size="8.70" dy="0.00">1500</tspan></text>
<line x1="59.30" y1="203.76" x2="61.10" y2="203.76" stroke="#000" stroke-width="1"/>
<text transform="translate(34.30 206.76) scale(0.979 1)" font-size="8.70" stroke="#000" stroke-width="0.5"><tspan font-size="8.70" dy="0.00">2000</tspan></text>
<line x1="59.30" y1="178.90" x2="61.10" y2="178.90" stroke="#000" stroke-width="1"/>
<text transform="translate(34.30 181.90) scale(0.979 1)" font-size="8.70" stroke="#000" stroke-width="0.5"><tspan font-size="8.70" dy="0.00">2500</tspan></text>
<path d="M72.2 239.5 V213.0 H112.1 V221.6" fill="none" stroke="#000" stroke-width="1.5"/>
<path d="M117.0 221.6 V173.3 H134.2 V182.2" fill="none" stroke="#000" stroke-width="1.5"/>
<text transform="translate(90.96 212.84) scale(0.945 1)" font-size="9.19" stroke="#000" stroke-width="0.4">*</text>
<text transform="translate(121.75 172.77) scale(1.096 1)" font-size="8.65" stroke="#000" stroke-width="0.3">**</text>
<text transform="translate(27.90 298.39) rotate(-90) scale(1.035 1)" font-size="8.55" stroke="#000" stroke-width="0.5"><tspan font-size="8.55" dy="0.00">[</tspan><tspan font-size="5.56" dy="-3.25">3</tspan><tspan font-size="8.55" dy="3.25">H]uracil incorporation (cpm)</tspan></text>
<text transform="translate(65.39 322.81) rotate(-55)" font-size="9.6" stroke="#000" stroke-width="0.5">WT</text>
<text transform="translate(74.54 336.16) rotate(-55)" font-size="10.2" stroke="#000" stroke-width="0.5">TRIF-/-</text>
<text transform="translate(91.70 344.75) rotate(-55)" font-size="10.3" stroke="#000" stroke-width="0.5">MyD88-/-</text>
<text transform="translate(96.46 371.08) rotate(-55)" font-size="10.2" stroke="#000" stroke-width="0.5">MyD88-/-TRIF-/-</text>
<line x1="441.10" y1="247.40" x2="441.10" y2="249.80" stroke="#000" stroke-width="1.3"/>
<line x1="439.10" y1="247.40" x2="443.10" y2="247.40" stroke="#000" stroke-width="1.8"/>
<line x1="463.85" y1="247.20" x2="463.85" y2="249.50" stroke="#000" stroke-width="1.3"/>
<line x1="461.85" y1="247.20" x2="465.85" y2="247.20" stroke="#000" stroke-width="1.8"/>
<line x1="486.20" y1="211.00" x2="486.20" y2="213.40" stroke="#000" stroke-width="1.3"/>
<line x1="484.20" y1="211.00" x2="488.20" y2="211.00" stroke="#000" stroke-width="1.8"/>
<line x1="507.00" y1="178.90" x2="507.00" y2="186.60" stroke="#000" stroke-width="1.3"/>
<line x1="505.00" y1="178.90" x2="509.00" y2="178.90" stroke="#000" stroke-width="1.8"/>
<rect x="435.10" y="249.80" width="12.00" height="49.10" fill="#fff" stroke="#000" stroke-width="1.6"/>
<rect x="457.85" y="249.50" width="12.00" height="49.40" fill="#000" stroke="#000" stroke-width="1.6"/>
<rect x="480.20" y="213.40" width="12.00" height="85.50" fill="url(#hatch)" stroke="#000" stroke-width="1.6"/>
<rect x="501.00" y="186.60" width="12.00" height="112.30" fill="url(#dots)" filter="url(#b04)"/>
<rect x="501.00" y="186.60" width="12.00" height="112.30" fill="none" stroke="#000" stroke-width="1.6"/>
<rect x="428.30" y="158.10" width="90.10" height="140.80" fill="none" stroke="#000" stroke-width="1.6"/>
<line x1="428.30" y1="298.90" x2="430.10" y2="298.90" stroke="#000" stroke-width="1"/>
<text transform="translate(420.37 301.90) scale(0.944 1)" font-size="8.70" stroke="#000" stroke-width="0.5"><tspan font-size="8.70" dy="0.00">0</tspan></text>
<line x1="428.30" y1="275.34" x2="430.10" y2="275.34" stroke="#000" stroke-width="1"/>
<text transform="translate(410.50 278.34) scale(0.998 1)" font-size="8.70" stroke="#000" stroke-width="0.5"><tspan font-size="8.70" dy="0.00">200</tspan></text>
<line x1="428.30" y1="251.78" x2="430.10" y2="251.78" stroke="#000" stroke-width="1"/>
<text transform="translate(410.67 254.78) scale(0.986 1)" font-size="8.70" stroke="#000" stroke-width="0.5"><tspan font-size="8.70" dy="0.00">400</tspan></text>
<line x1="428.30" y1="228.22" x2="430.10" y2="228.22" stroke="#000" stroke-width="1"/>
<text transform="translate(410.50 231.22) scale(0.998 1)" font-size="8.70" stroke="#000" stroke-width="0.5"><tspan font-size="8.70" dy="0.00">600</tspan></text>
<line x1="428.30" y1="204.66" x2="430.10" y2="204.66" stroke="#000" stroke-width="1"/>
<text transform="translate(410.54 207.66) scale(0.995 1)" font-size="8.70" stroke="#000" stroke-width="0.5"><tspan font-size="8.70" dy="0.00">800</tspan></text>
<line x1="428.30" y1="181.10" x2="430.10" y2="181.10" stroke="#000" stroke-width="1"/>
<text transform="translate(405.74 184.10) scale(0.993 1)" font-size="8.70" stroke="#000" stroke-width="0.5"><tspan font-size="8.70" dy="0.00">1000</tspan></text>
<line x1="428.30" y1="157.54" x2="430.10" y2="157.54" stroke="#000" stroke-width="1"/>
<text transform="translate(405.74 160.54) scale(0.993 1)" font-size="8.70" stroke="#000" stroke-width="0.5"><tspan font-size="8.70" dy="0.00">1200</tspan></text>
<path d="M489.1 209.1 V167.7 H506.4 V175.6" fill="none" stroke="#000" stroke-width="1.5"/>
<text transform="translate(496.66 167.85) scale(1.003 1)" font-size="8.92" stroke="#000" stroke-width="0.4">*</text>
<text transform="translate(405.10 270.37) rotate(-90) scale(0.985 1)" font-size="8.97" stroke="#000" stroke-width="0.5"><tspan font-size="8.97" dy="0.00">parasites/250 cells</tspan></text>
<text transform="translate(435.87 319.51) rotate(-55)" font-size="10.2" stroke="#000" stroke-width="0.5">WT</text>
<text transform="translate(448.14 330.71) rotate(-55)" font-size="10.4" stroke="#000" stroke-width="0.5">TRIF-/-</text>
<text transform="translate(464.79 339.42) rotate(-55)" font-size="10.2" stroke="#000" stroke-width="0.5">MyD88-/-</text>
<text transform="translate(468.91 366.45) rotate(-55)" font-size="10.3" stroke="#000" stroke-width="0.5">MyD88-/-TRIF-/-</text>
</svg>
</body></html>
